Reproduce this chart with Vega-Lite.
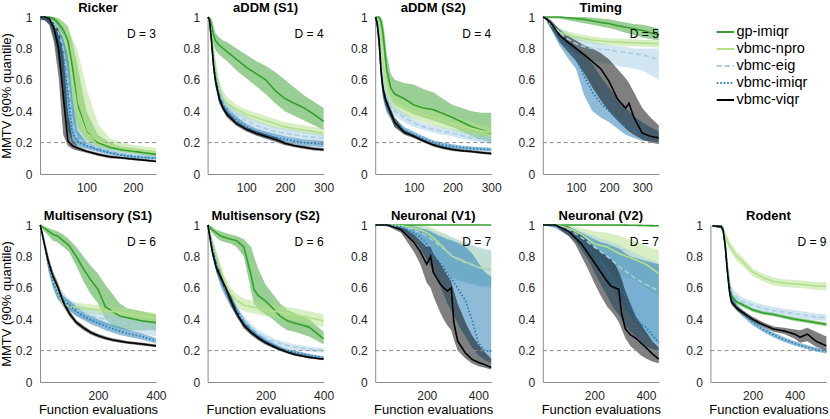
{
  "$schema": "https://vega.github.io/schema/vega-lite/v6.json",
  "padding": {"left": 0, "top": 2, "right": 0, "bottom": 0},
  "data": {"name": "d"},
  "datasets": {
    "labels": [
      {"p": "R", "x": 250, "y": 0.89, "t": "D = 3"},
      {"p": "A1", "x": 300, "y": 0.89, "t": "D = 4"},
      {"p": "A2", "x": 300, "y": 0.89, "t": "D = 4"},
      {"p": "T", "x": 350, "y": 0.89, "t": "D = 5"},
      {"p": "M1", "x": 400, "y": 0.89, "t": "D = 6"},
      {"p": "M2", "x": 400, "y": 0.89, "t": "D = 6"},
      {"p": "N1", "x": 450, "y": 0.89, "t": "D = 7"},
      {"p": "N2", "x": 450, "y": 0.89, "t": "D = 7"},
      {"p": "Ro", "x": 550, "y": 0.89, "t": "D = 9"}
    ],
    "methods": [
      {"m": "gp-imiqr"}, {"m": "vbmc-npro"}, {"m": "vbmc-eig"}, {"m": "vbmc-imiqr"}, {"m": "vbmc-viqr"}
    ],
    "d": [
      {"p":"R","m":"gp-imiqr","x":1,"y":1,"lo":0.99,"hi":1},
      {"p":"R","m":"gp-imiqr","x":10,"y":1,"lo":0.99,"hi":1},
      {"p":"R","m":"gp-imiqr","x":20,"y":1,"lo":0.98,"hi":1},
      {"p":"R","m":"gp-imiqr","x":30,"y":0.99,"lo":0.96,"hi":1},
      {"p":"R","m":"gp-imiqr","x":40,"y":0.96,"lo":0.9,"hi":0.99},
      {"p":"R","m":"gp-imiqr","x":50,"y":0.92,"lo":0.82,"hi":0.97},
      {"p":"R","m":"gp-imiqr","x":60,"y":0.85,"lo":0.68,"hi":0.94},
      {"p":"R","m":"gp-imiqr","x":70,"y":0.68,"lo":0.45,"hi":0.84},
      {"p":"R","m":"gp-imiqr","x":80,"y":0.45,"lo":0.3,"hi":0.7},
      {"p":"R","m":"gp-imiqr","x":100,"y":0.27,"lo":0.22,"hi":0.4},
      {"p":"R","m":"gp-imiqr","x":125,"y":0.2,"lo":0.175,"hi":0.25},
      {"p":"R","m":"gp-imiqr","x":150,"y":0.17,"lo":0.155,"hi":0.2},
      {"p":"R","m":"gp-imiqr","x":175,"y":0.155,"lo":0.14,"hi":0.175},
      {"p":"R","m":"gp-imiqr","x":200,"y":0.145,"lo":0.13,"hi":0.165},
      {"p":"R","m":"gp-imiqr","x":225,"y":0.135,"lo":0.12,"hi":0.155},
      {"p":"R","m":"gp-imiqr","x":250,"y":0.125,"lo":0.11,"hi":0.145},
      {"p":"R","m":"vbmc-npro","x":1,"y":1,"lo":0.99,"hi":1},
      {"p":"R","m":"vbmc-npro","x":10,"y":1,"lo":0.99,"hi":1},
      {"p":"R","m":"vbmc-npro","x":20,"y":0.99,"lo":0.97,"hi":1},
      {"p":"R","m":"vbmc-npro","x":30,"y":0.97,"lo":0.92,"hi":1},
      {"p":"R","m":"vbmc-npro","x":40,"y":0.93,"lo":0.85,"hi":0.99},
      {"p":"R","m":"vbmc-npro","x":50,"y":0.88,"lo":0.72,"hi":0.97},
      {"p":"R","m":"vbmc-npro","x":60,"y":0.78,"lo":0.5,"hi":0.93},
      {"p":"R","m":"vbmc-npro","x":70,"y":0.6,"lo":0.35,"hi":0.86},
      {"p":"R","m":"vbmc-npro","x":80,"y":0.42,"lo":0.25,"hi":0.8},
      {"p":"R","m":"vbmc-npro","x":100,"y":0.26,"lo":0.2,"hi":0.55},
      {"p":"R","m":"vbmc-npro","x":125,"y":0.21,"lo":0.17,"hi":0.32},
      {"p":"R","m":"vbmc-npro","x":150,"y":0.185,"lo":0.155,"hi":0.23},
      {"p":"R","m":"vbmc-npro","x":175,"y":0.165,"lo":0.14,"hi":0.2},
      {"p":"R","m":"vbmc-npro","x":200,"y":0.155,"lo":0.13,"hi":0.185},
      {"p":"R","m":"vbmc-npro","x":225,"y":0.148,"lo":0.125,"hi":0.175},
      {"p":"R","m":"vbmc-npro","x":250,"y":0.14,"lo":0.12,"hi":0.165},
      {"p":"R","m":"vbmc-eig","x":1,"y":1,"lo":0.99,"hi":1},
      {"p":"R","m":"vbmc-eig","x":10,"y":1,"lo":0.98,"hi":1},
      {"p":"R","m":"vbmc-eig","x":20,"y":0.99,"lo":0.96,"hi":1},
      {"p":"R","m":"vbmc-eig","x":30,"y":0.96,"lo":0.9,"hi":0.99},
      {"p":"R","m":"vbmc-eig","x":40,"y":0.9,"lo":0.78,"hi":0.97},
      {"p":"R","m":"vbmc-eig","x":50,"y":0.8,"lo":0.58,"hi":0.93},
      {"p":"R","m":"vbmc-eig","x":60,"y":0.6,"lo":0.33,"hi":0.83},
      {"p":"R","m":"vbmc-eig","x":70,"y":0.32,"lo":0.22,"hi":0.55},
      {"p":"R","m":"vbmc-eig","x":80,"y":0.23,"lo":0.19,"hi":0.32},
      {"p":"R","m":"vbmc-eig","x":100,"y":0.19,"lo":0.17,"hi":0.22},
      {"p":"R","m":"vbmc-eig","x":125,"y":0.165,"lo":0.15,"hi":0.18},
      {"p":"R","m":"vbmc-eig","x":150,"y":0.145,"lo":0.13,"hi":0.16},
      {"p":"R","m":"vbmc-eig","x":175,"y":0.13,"lo":0.12,"hi":0.145},
      {"p":"R","m":"vbmc-eig","x":200,"y":0.12,"lo":0.11,"hi":0.135},
      {"p":"R","m":"vbmc-eig","x":225,"y":0.113,"lo":0.103,"hi":0.125},
      {"p":"R","m":"vbmc-eig","x":250,"y":0.108,"lo":0.098,"hi":0.12},
      {"p":"R","m":"vbmc-imiqr","x":1,"y":1,"lo":0.99,"hi":1},
      {"p":"R","m":"vbmc-imiqr","x":10,"y":1,"lo":0.98,"hi":1},
      {"p":"R","m":"vbmc-imiqr","x":20,"y":0.99,"lo":0.95,"hi":1},
      {"p":"R","m":"vbmc-imiqr","x":30,"y":0.95,"lo":0.87,"hi":0.99},
      {"p":"R","m":"vbmc-imiqr","x":40,"y":0.88,"lo":0.72,"hi":0.96},
      {"p":"R","m":"vbmc-imiqr","x":50,"y":0.76,"lo":0.5,"hi":0.9},
      {"p":"R","m":"vbmc-imiqr","x":60,"y":0.52,"lo":0.28,"hi":0.78},
      {"p":"R","m":"vbmc-imiqr","x":70,"y":0.26,"lo":0.2,"hi":0.48},
      {"p":"R","m":"vbmc-imiqr","x":80,"y":0.21,"lo":0.18,"hi":0.28},
      {"p":"R","m":"vbmc-imiqr","x":100,"y":0.18,"lo":0.16,"hi":0.2},
      {"p":"R","m":"vbmc-imiqr","x":125,"y":0.155,"lo":0.14,"hi":0.17},
      {"p":"R","m":"vbmc-imiqr","x":150,"y":0.135,"lo":0.122,"hi":0.15},
      {"p":"R","m":"vbmc-imiqr","x":175,"y":0.12,"lo":0.11,"hi":0.133},
      {"p":"R","m":"vbmc-imiqr","x":200,"y":0.11,"lo":0.1,"hi":0.122},
      {"p":"R","m":"vbmc-imiqr","x":225,"y":0.105,"lo":0.095,"hi":0.115},
      {"p":"R","m":"vbmc-imiqr","x":250,"y":0.1,"lo":0.09,"hi":0.11},
      {"p":"R","m":"vbmc-viqr","x":1,"y":1,"lo":0.98,"hi":1},
      {"p":"R","m":"vbmc-viqr","x":10,"y":1,"lo":0.98,"hi":1},
      {"p":"R","m":"vbmc-viqr","x":20,"y":0.99,"lo":0.95,"hi":1},
      {"p":"R","m":"vbmc-viqr","x":30,"y":0.93,"lo":0.84,"hi":0.98},
      {"p":"R","m":"vbmc-viqr","x":40,"y":0.8,"lo":0.62,"hi":0.93},
      {"p":"R","m":"vbmc-viqr","x":50,"y":0.5,"lo":0.25,"hi":0.78},
      {"p":"R","m":"vbmc-viqr","x":60,"y":0.21,"lo":0.18,"hi":0.4},
      {"p":"R","m":"vbmc-viqr","x":70,"y":0.18,"lo":0.16,"hi":0.22},
      {"p":"R","m":"vbmc-viqr","x":80,"y":0.165,"lo":0.15,"hi":0.18},
      {"p":"R","m":"vbmc-viqr","x":100,"y":0.145,"lo":0.135,"hi":0.155},
      {"p":"R","m":"vbmc-viqr","x":125,"y":0.125,"lo":0.115,"hi":0.135},
      {"p":"R","m":"vbmc-viqr","x":150,"y":0.11,"lo":0.1,"hi":0.12},
      {"p":"R","m":"vbmc-viqr","x":175,"y":0.103,"lo":0.095,"hi":0.11},
      {"p":"R","m":"vbmc-viqr","x":200,"y":0.095,"lo":0.088,"hi":0.102},
      {"p":"R","m":"vbmc-viqr","x":225,"y":0.088,"lo":0.082,"hi":0.095},
      {"p":"R","m":"vbmc-viqr","x":250,"y":0.08,"lo":0.075,"hi":0.087},

      {"p":"A1","m":"gp-imiqr","x":1,"y":1,"lo":0.99,"hi":1},
      {"p":"A1","m":"gp-imiqr","x":5,"y":0.99,"lo":0.96,"hi":1},
      {"p":"A1","m":"gp-imiqr","x":10,"y":0.95,"lo":0.9,"hi":0.99},
      {"p":"A1","m":"gp-imiqr","x":15,"y":0.89,"lo":0.83,"hi":0.95},
      {"p":"A1","m":"gp-imiqr","x":20,"y":0.85,"lo":0.79,"hi":0.9},
      {"p":"A1","m":"gp-imiqr","x":30,"y":0.82,"lo":0.76,"hi":0.87},
      {"p":"A1","m":"gp-imiqr","x":40,"y":0.8,"lo":0.74,"hi":0.85},
      {"p":"A1","m":"gp-imiqr","x":50,"y":0.78,"lo":0.72,"hi":0.84},
      {"p":"A1","m":"gp-imiqr","x":75,"y":0.73,"lo":0.66,"hi":0.8},
      {"p":"A1","m":"gp-imiqr","x":100,"y":0.68,"lo":0.61,"hi":0.76},
      {"p":"A1","m":"gp-imiqr","x":125,"y":0.64,"lo":0.56,"hi":0.72},
      {"p":"A1","m":"gp-imiqr","x":150,"y":0.6,"lo":0.51,"hi":0.69},
      {"p":"A1","m":"gp-imiqr","x":175,"y":0.53,"lo":0.45,"hi":0.65},
      {"p":"A1","m":"gp-imiqr","x":200,"y":0.48,"lo":0.4,"hi":0.6},
      {"p":"A1","m":"gp-imiqr","x":225,"y":0.45,"lo":0.37,"hi":0.55},
      {"p":"A1","m":"gp-imiqr","x":250,"y":0.42,"lo":0.34,"hi":0.5},
      {"p":"A1","m":"gp-imiqr","x":275,"y":0.38,"lo":0.31,"hi":0.46},
      {"p":"A1","m":"gp-imiqr","x":300,"y":0.335,"lo":0.28,"hi":0.42},
      {"p":"A1","m":"vbmc-npro","x":1,"y":1,"lo":0.99,"hi":1},
      {"p":"A1","m":"vbmc-npro","x":5,"y":0.98,"lo":0.95,"hi":1},
      {"p":"A1","m":"vbmc-npro","x":10,"y":0.9,"lo":0.84,"hi":0.95},
      {"p":"A1","m":"vbmc-npro","x":15,"y":0.78,"lo":0.72,"hi":0.84},
      {"p":"A1","m":"vbmc-npro","x":20,"y":0.68,"lo":0.62,"hi":0.74},
      {"p":"A1","m":"vbmc-npro","x":30,"y":0.55,"lo":0.5,"hi":0.6},
      {"p":"A1","m":"vbmc-npro","x":40,"y":0.48,"lo":0.44,"hi":0.53},
      {"p":"A1","m":"vbmc-npro","x":50,"y":0.45,"lo":0.41,"hi":0.49},
      {"p":"A1","m":"vbmc-npro","x":75,"y":0.41,"lo":0.38,"hi":0.44},
      {"p":"A1","m":"vbmc-npro","x":100,"y":0.38,"lo":0.35,"hi":0.41},
      {"p":"A1","m":"vbmc-npro","x":125,"y":0.36,"lo":0.33,"hi":0.39},
      {"p":"A1","m":"vbmc-npro","x":150,"y":0.34,"lo":0.31,"hi":0.37},
      {"p":"A1","m":"vbmc-npro","x":175,"y":0.32,"lo":0.29,"hi":0.35},
      {"p":"A1","m":"vbmc-npro","x":200,"y":0.3,"lo":0.28,"hi":0.33},
      {"p":"A1","m":"vbmc-npro","x":225,"y":0.29,"lo":0.27,"hi":0.32},
      {"p":"A1","m":"vbmc-npro","x":250,"y":0.28,"lo":0.26,"hi":0.31},
      {"p":"A1","m":"vbmc-npro","x":275,"y":0.27,"lo":0.25,"hi":0.3},
      {"p":"A1","m":"vbmc-npro","x":300,"y":0.26,"lo":0.24,"hi":0.29},
      {"p":"A1","m":"vbmc-eig","x":1,"y":1,"lo":0.99,"hi":1},
      {"p":"A1","m":"vbmc-eig","x":5,"y":0.98,"lo":0.95,"hi":1},
      {"p":"A1","m":"vbmc-eig","x":10,"y":0.87,"lo":0.82,"hi":0.92},
      {"p":"A1","m":"vbmc-eig","x":15,"y":0.74,"lo":0.68,"hi":0.8},
      {"p":"A1","m":"vbmc-eig","x":20,"y":0.64,"lo":0.58,"hi":0.7},
      {"p":"A1","m":"vbmc-eig","x":30,"y":0.52,"lo":0.47,"hi":0.57},
      {"p":"A1","m":"vbmc-eig","x":40,"y":0.46,"lo":0.42,"hi":0.5},
      {"p":"A1","m":"vbmc-eig","x":50,"y":0.42,"lo":0.38,"hi":0.46},
      {"p":"A1","m":"vbmc-eig","x":75,"y":0.37,"lo":0.34,"hi":0.4},
      {"p":"A1","m":"vbmc-eig","x":100,"y":0.34,"lo":0.31,"hi":0.37},
      {"p":"A1","m":"vbmc-eig","x":125,"y":0.31,"lo":0.28,"hi":0.34},
      {"p":"A1","m":"vbmc-eig","x":150,"y":0.29,"lo":0.26,"hi":0.32},
      {"p":"A1","m":"vbmc-eig","x":175,"y":0.27,"lo":0.245,"hi":0.3},
      {"p":"A1","m":"vbmc-eig","x":200,"y":0.26,"lo":0.235,"hi":0.29},
      {"p":"A1","m":"vbmc-eig","x":225,"y":0.25,"lo":0.225,"hi":0.28},
      {"p":"A1","m":"vbmc-eig","x":250,"y":0.24,"lo":0.215,"hi":0.27},
      {"p":"A1","m":"vbmc-eig","x":275,"y":0.235,"lo":0.21,"hi":0.26},
      {"p":"A1","m":"vbmc-eig","x":300,"y":0.23,"lo":0.205,"hi":0.255},
      {"p":"A1","m":"vbmc-imiqr","x":1,"y":1,"lo":0.99,"hi":1},
      {"p":"A1","m":"vbmc-imiqr","x":5,"y":0.98,"lo":0.95,"hi":1},
      {"p":"A1","m":"vbmc-imiqr","x":10,"y":0.86,"lo":0.8,"hi":0.91},
      {"p":"A1","m":"vbmc-imiqr","x":15,"y":0.72,"lo":0.66,"hi":0.78},
      {"p":"A1","m":"vbmc-imiqr","x":20,"y":0.62,"lo":0.57,"hi":0.67},
      {"p":"A1","m":"vbmc-imiqr","x":30,"y":0.5,"lo":0.46,"hi":0.54},
      {"p":"A1","m":"vbmc-imiqr","x":40,"y":0.44,"lo":0.41,"hi":0.47},
      {"p":"A1","m":"vbmc-imiqr","x":50,"y":0.4,"lo":0.37,"hi":0.43},
      {"p":"A1","m":"vbmc-imiqr","x":75,"y":0.34,"lo":0.32,"hi":0.365},
      {"p":"A1","m":"vbmc-imiqr","x":100,"y":0.3,"lo":0.28,"hi":0.32},
      {"p":"A1","m":"vbmc-imiqr","x":125,"y":0.27,"lo":0.25,"hi":0.29},
      {"p":"A1","m":"vbmc-imiqr","x":150,"y":0.25,"lo":0.23,"hi":0.27},
      {"p":"A1","m":"vbmc-imiqr","x":175,"y":0.235,"lo":0.215,"hi":0.255},
      {"p":"A1","m":"vbmc-imiqr","x":200,"y":0.22,"lo":0.2,"hi":0.24},
      {"p":"A1","m":"vbmc-imiqr","x":225,"y":0.21,"lo":0.19,"hi":0.23},
      {"p":"A1","m":"vbmc-imiqr","x":250,"y":0.2,"lo":0.18,"hi":0.22},
      {"p":"A1","m":"vbmc-imiqr","x":275,"y":0.195,"lo":0.175,"hi":0.215},
      {"p":"A1","m":"vbmc-imiqr","x":300,"y":0.19,"lo":0.17,"hi":0.21},
      {"p":"A1","m":"vbmc-viqr","x":1,"y":1,"lo":0.99,"hi":1},
      {"p":"A1","m":"vbmc-viqr","x":5,"y":0.98,"lo":0.95,"hi":1},
      {"p":"A1","m":"vbmc-viqr","x":10,"y":0.85,"lo":0.8,"hi":0.9},
      {"p":"A1","m":"vbmc-viqr","x":15,"y":0.7,"lo":0.65,"hi":0.75},
      {"p":"A1","m":"vbmc-viqr","x":20,"y":0.6,"lo":0.56,"hi":0.64},
      {"p":"A1","m":"vbmc-viqr","x":30,"y":0.48,"lo":0.45,"hi":0.51},
      {"p":"A1","m":"vbmc-viqr","x":40,"y":0.42,"lo":0.4,"hi":0.44},
      {"p":"A1","m":"vbmc-viqr","x":50,"y":0.38,"lo":0.36,"hi":0.4},
      {"p":"A1","m":"vbmc-viqr","x":75,"y":0.32,"lo":0.305,"hi":0.335},
      {"p":"A1","m":"vbmc-viqr","x":100,"y":0.285,"lo":0.27,"hi":0.3},
      {"p":"A1","m":"vbmc-viqr","x":125,"y":0.26,"lo":0.245,"hi":0.275},
      {"p":"A1","m":"vbmc-viqr","x":150,"y":0.24,"lo":0.225,"hi":0.255},
      {"p":"A1","m":"vbmc-viqr","x":175,"y":0.22,"lo":0.205,"hi":0.235},
      {"p":"A1","m":"vbmc-viqr","x":200,"y":0.195,"lo":0.183,"hi":0.207},
      {"p":"A1","m":"vbmc-viqr","x":225,"y":0.18,"lo":0.17,"hi":0.19},
      {"p":"A1","m":"vbmc-viqr","x":250,"y":0.17,"lo":0.16,"hi":0.18},
      {"p":"A1","m":"vbmc-viqr","x":275,"y":0.16,"lo":0.15,"hi":0.17},
      {"p":"A1","m":"vbmc-viqr","x":300,"y":0.155,"lo":0.145,"hi":0.165},

      {"p":"A2","m":"gp-imiqr","x":1,"y":1,"lo":0.99,"hi":1},
      {"p":"A2","m":"gp-imiqr","x":5,"y":1,"lo":0.98,"hi":1},
      {"p":"A2","m":"gp-imiqr","x":10,"y":1,"lo":0.97,"hi":1},
      {"p":"A2","m":"gp-imiqr","x":15,"y":0.97,"lo":0.9,"hi":1},
      {"p":"A2","m":"gp-imiqr","x":20,"y":0.9,"lo":0.8,"hi":0.97},
      {"p":"A2","m":"gp-imiqr","x":25,"y":0.78,"lo":0.68,"hi":0.88},
      {"p":"A2","m":"gp-imiqr","x":30,"y":0.66,"lo":0.58,"hi":0.76},
      {"p":"A2","m":"gp-imiqr","x":40,"y":0.55,"lo":0.48,"hi":0.64},
      {"p":"A2","m":"gp-imiqr","x":50,"y":0.51,"lo":0.44,"hi":0.6},
      {"p":"A2","m":"gp-imiqr","x":75,"y":0.48,"lo":0.41,"hi":0.58},
      {"p":"A2","m":"gp-imiqr","x":100,"y":0.44,"lo":0.38,"hi":0.57},
      {"p":"A2","m":"gp-imiqr","x":125,"y":0.42,"lo":0.36,"hi":0.54},
      {"p":"A2","m":"gp-imiqr","x":150,"y":0.41,"lo":0.34,"hi":0.52},
      {"p":"A2","m":"gp-imiqr","x":175,"y":0.385,"lo":0.32,"hi":0.48},
      {"p":"A2","m":"gp-imiqr","x":200,"y":0.36,"lo":0.3,"hi":0.44},
      {"p":"A2","m":"gp-imiqr","x":225,"y":0.33,"lo":0.27,"hi":0.42},
      {"p":"A2","m":"gp-imiqr","x":250,"y":0.3,"lo":0.24,"hi":0.4},
      {"p":"A2","m":"gp-imiqr","x":275,"y":0.28,"lo":0.22,"hi":0.39},
      {"p":"A2","m":"gp-imiqr","x":300,"y":0.26,"lo":0.2,"hi":0.39},
      {"p":"A2","m":"vbmc-npro","x":1,"y":1,"lo":0.99,"hi":1},
      {"p":"A2","m":"vbmc-npro","x":5,"y":0.99,"lo":0.96,"hi":1},
      {"p":"A2","m":"vbmc-npro","x":10,"y":0.95,"lo":0.88,"hi":0.99},
      {"p":"A2","m":"vbmc-npro","x":15,"y":0.85,"lo":0.75,"hi":0.93},
      {"p":"A2","m":"vbmc-npro","x":20,"y":0.72,"lo":0.62,"hi":0.82},
      {"p":"A2","m":"vbmc-npro","x":25,"y":0.62,"lo":0.54,"hi":0.7},
      {"p":"A2","m":"vbmc-npro","x":30,"y":0.55,"lo":0.48,"hi":0.62},
      {"p":"A2","m":"vbmc-npro","x":40,"y":0.48,"lo":0.43,"hi":0.54},
      {"p":"A2","m":"vbmc-npro","x":50,"y":0.45,"lo":0.4,"hi":0.5},
      {"p":"A2","m":"vbmc-npro","x":75,"y":0.42,"lo":0.37,"hi":0.47},
      {"p":"A2","m":"vbmc-npro","x":100,"y":0.4,"lo":0.35,"hi":0.45},
      {"p":"A2","m":"vbmc-npro","x":125,"y":0.38,"lo":0.33,"hi":0.43},
      {"p":"A2","m":"vbmc-npro","x":150,"y":0.36,"lo":0.31,"hi":0.41},
      {"p":"A2","m":"vbmc-npro","x":175,"y":0.34,"lo":0.29,"hi":0.39},
      {"p":"A2","m":"vbmc-npro","x":200,"y":0.32,"lo":0.28,"hi":0.37},
      {"p":"A2","m":"vbmc-npro","x":225,"y":0.3,"lo":0.26,"hi":0.35},
      {"p":"A2","m":"vbmc-npro","x":250,"y":0.29,"lo":0.25,"hi":0.33},
      {"p":"A2","m":"vbmc-npro","x":275,"y":0.275,"lo":0.24,"hi":0.31},
      {"p":"A2","m":"vbmc-npro","x":300,"y":0.265,"lo":0.23,"hi":0.3},
      {"p":"A2","m":"vbmc-eig","x":1,"y":1,"lo":0.99,"hi":1},
      {"p":"A2","m":"vbmc-eig","x":5,"y":0.98,"lo":0.95,"hi":1},
      {"p":"A2","m":"vbmc-eig","x":10,"y":0.88,"lo":0.82,"hi":0.93},
      {"p":"A2","m":"vbmc-eig","x":15,"y":0.72,"lo":0.65,"hi":0.79},
      {"p":"A2","m":"vbmc-eig","x":20,"y":0.6,"lo":0.54,"hi":0.66},
      {"p":"A2","m":"vbmc-eig","x":25,"y":0.53,"lo":0.48,"hi":0.58},
      {"p":"A2","m":"vbmc-eig","x":30,"y":0.49,"lo":0.45,"hi":0.53},
      {"p":"A2","m":"vbmc-eig","x":40,"y":0.43,"lo":0.4,"hi":0.47},
      {"p":"A2","m":"vbmc-eig","x":50,"y":0.4,"lo":0.37,"hi":0.43},
      {"p":"A2","m":"vbmc-eig","x":75,"y":0.36,"lo":0.33,"hi":0.39},
      {"p":"A2","m":"vbmc-eig","x":100,"y":0.325,"lo":0.3,"hi":0.35},
      {"p":"A2","m":"vbmc-eig","x":125,"y":0.3,"lo":0.28,"hi":0.325},
      {"p":"A2","m":"vbmc-eig","x":150,"y":0.285,"lo":0.265,"hi":0.31},
      {"p":"A2","m":"vbmc-eig","x":175,"y":0.27,"lo":0.25,"hi":0.295},
      {"p":"A2","m":"vbmc-eig","x":200,"y":0.26,"lo":0.24,"hi":0.285},
      {"p":"A2","m":"vbmc-eig","x":225,"y":0.245,"lo":0.225,"hi":0.27},
      {"p":"A2","m":"vbmc-eig","x":250,"y":0.23,"lo":0.21,"hi":0.255},
      {"p":"A2","m":"vbmc-eig","x":275,"y":0.22,"lo":0.2,"hi":0.245},
      {"p":"A2","m":"vbmc-eig","x":300,"y":0.21,"lo":0.19,"hi":0.235},
      {"p":"A2","m":"vbmc-imiqr","x":1,"y":1,"lo":0.99,"hi":1},
      {"p":"A2","m":"vbmc-imiqr","x":5,"y":0.97,"lo":0.93,"hi":1},
      {"p":"A2","m":"vbmc-imiqr","x":10,"y":0.86,"lo":0.8,"hi":0.91},
      {"p":"A2","m":"vbmc-imiqr","x":15,"y":0.66,"lo":0.6,"hi":0.72},
      {"p":"A2","m":"vbmc-imiqr","x":20,"y":0.53,"lo":0.48,"hi":0.58},
      {"p":"A2","m":"vbmc-imiqr","x":25,"y":0.47,"lo":0.43,"hi":0.51},
      {"p":"A2","m":"vbmc-imiqr","x":30,"y":0.43,"lo":0.39,"hi":0.47},
      {"p":"A2","m":"vbmc-imiqr","x":40,"y":0.38,"lo":0.35,"hi":0.41},
      {"p":"A2","m":"vbmc-imiqr","x":50,"y":0.33,"lo":0.3,"hi":0.36},
      {"p":"A2","m":"vbmc-imiqr","x":75,"y":0.28,"lo":0.26,"hi":0.3},
      {"p":"A2","m":"vbmc-imiqr","x":100,"y":0.25,"lo":0.235,"hi":0.27},
      {"p":"A2","m":"vbmc-imiqr","x":125,"y":0.225,"lo":0.21,"hi":0.24},
      {"p":"A2","m":"vbmc-imiqr","x":150,"y":0.2,"lo":0.188,"hi":0.215},
      {"p":"A2","m":"vbmc-imiqr","x":175,"y":0.185,"lo":0.173,"hi":0.2},
      {"p":"A2","m":"vbmc-imiqr","x":200,"y":0.175,"lo":0.163,"hi":0.19},
      {"p":"A2","m":"vbmc-imiqr","x":225,"y":0.168,"lo":0.157,"hi":0.18},
      {"p":"A2","m":"vbmc-imiqr","x":250,"y":0.162,"lo":0.152,"hi":0.175},
      {"p":"A2","m":"vbmc-imiqr","x":275,"y":0.158,"lo":0.148,"hi":0.17},
      {"p":"A2","m":"vbmc-imiqr","x":300,"y":0.155,"lo":0.145,"hi":0.167},
      {"p":"A2","m":"vbmc-viqr","x":1,"y":1,"lo":0.99,"hi":1},
      {"p":"A2","m":"vbmc-viqr","x":5,"y":0.96,"lo":0.92,"hi":1},
      {"p":"A2","m":"vbmc-viqr","x":10,"y":0.85,"lo":0.78,"hi":0.9},
      {"p":"A2","m":"vbmc-viqr","x":15,"y":0.66,"lo":0.6,"hi":0.72},
      {"p":"A2","m":"vbmc-viqr","x":20,"y":0.55,"lo":0.5,"hi":0.6},
      {"p":"A2","m":"vbmc-viqr","x":25,"y":0.49,"lo":0.45,"hi":0.53},
      {"p":"A2","m":"vbmc-viqr","x":30,"y":0.45,"lo":0.41,"hi":0.49},
      {"p":"A2","m":"vbmc-viqr","x":40,"y":0.39,"lo":0.36,"hi":0.42},
      {"p":"A2","m":"vbmc-viqr","x":50,"y":0.33,"lo":0.3,"hi":0.36},
      {"p":"A2","m":"vbmc-viqr","x":75,"y":0.265,"lo":0.25,"hi":0.28},
      {"p":"A2","m":"vbmc-viqr","x":100,"y":0.24,"lo":0.228,"hi":0.252},
      {"p":"A2","m":"vbmc-viqr","x":125,"y":0.21,"lo":0.2,"hi":0.222},
      {"p":"A2","m":"vbmc-viqr","x":150,"y":0.185,"lo":0.175,"hi":0.195},
      {"p":"A2","m":"vbmc-viqr","x":175,"y":0.168,"lo":0.158,"hi":0.178},
      {"p":"A2","m":"vbmc-viqr","x":200,"y":0.156,"lo":0.147,"hi":0.165},
      {"p":"A2","m":"vbmc-viqr","x":225,"y":0.148,"lo":0.14,"hi":0.157},
      {"p":"A2","m":"vbmc-viqr","x":250,"y":0.143,"lo":0.135,"hi":0.152},
      {"p":"A2","m":"vbmc-viqr","x":275,"y":0.136,"lo":0.128,"hi":0.145},
      {"p":"A2","m":"vbmc-viqr","x":300,"y":0.13,"lo":0.122,"hi":0.14},

      {"p":"T","m":"gp-imiqr","x":1,"y":1,"lo":1,"hi":1},
      {"p":"T","m":"gp-imiqr","x":25,"y":1,"lo":0.99,"hi":1},
      {"p":"T","m":"gp-imiqr","x":50,"y":1,"lo":0.99,"hi":1},
      {"p":"T","m":"gp-imiqr","x":75,"y":0.995,"lo":0.98,"hi":1},
      {"p":"T","m":"gp-imiqr","x":100,"y":0.99,"lo":0.97,"hi":1},
      {"p":"T","m":"gp-imiqr","x":125,"y":0.985,"lo":0.96,"hi":1},
      {"p":"T","m":"gp-imiqr","x":150,"y":0.975,"lo":0.95,"hi":0.995},
      {"p":"T","m":"gp-imiqr","x":175,"y":0.965,"lo":0.94,"hi":0.99},
      {"p":"T","m":"gp-imiqr","x":200,"y":0.958,"lo":0.93,"hi":0.985},
      {"p":"T","m":"gp-imiqr","x":225,"y":0.945,"lo":0.915,"hi":0.975},
      {"p":"T","m":"gp-imiqr","x":250,"y":0.935,"lo":0.9,"hi":0.965},
      {"p":"T","m":"gp-imiqr","x":275,"y":0.925,"lo":0.885,"hi":0.955},
      {"p":"T","m":"gp-imiqr","x":300,"y":0.915,"lo":0.87,"hi":0.95},
      {"p":"T","m":"gp-imiqr","x":325,"y":0.9,"lo":0.86,"hi":0.94},
      {"p":"T","m":"gp-imiqr","x":350,"y":0.885,"lo":0.85,"hi":0.925},
      {"p":"T","m":"vbmc-npro","x":1,"y":1,"lo":1,"hi":1},
      {"p":"T","m":"vbmc-npro","x":10,"y":0.99,"lo":0.98,"hi":1},
      {"p":"T","m":"vbmc-npro","x":25,"y":0.95,"lo":0.93,"hi":0.97},
      {"p":"T","m":"vbmc-npro","x":50,"y":0.905,"lo":0.88,"hi":0.93},
      {"p":"T","m":"vbmc-npro","x":75,"y":0.885,"lo":0.86,"hi":0.91},
      {"p":"T","m":"vbmc-npro","x":100,"y":0.873,"lo":0.85,"hi":0.895},
      {"p":"T","m":"vbmc-npro","x":125,"y":0.862,"lo":0.84,"hi":0.885},
      {"p":"T","m":"vbmc-npro","x":150,"y":0.852,"lo":0.83,"hi":0.875},
      {"p":"T","m":"vbmc-npro","x":200,"y":0.843,"lo":0.82,"hi":0.865},
      {"p":"T","m":"vbmc-npro","x":250,"y":0.838,"lo":0.815,"hi":0.86},
      {"p":"T","m":"vbmc-npro","x":300,"y":0.833,"lo":0.81,"hi":0.855},
      {"p":"T","m":"vbmc-npro","x":350,"y":0.83,"lo":0.805,"hi":0.852},
      {"p":"T","m":"vbmc-eig","x":1,"y":1,"lo":1,"hi":1},
      {"p":"T","m":"vbmc-eig","x":10,"y":0.99,"lo":0.98,"hi":1},
      {"p":"T","m":"vbmc-eig","x":25,"y":0.95,"lo":0.92,"hi":0.97},
      {"p":"T","m":"vbmc-eig","x":50,"y":0.9,"lo":0.86,"hi":0.93},
      {"p":"T","m":"vbmc-eig","x":75,"y":0.86,"lo":0.81,"hi":0.9},
      {"p":"T","m":"vbmc-eig","x":100,"y":0.83,"lo":0.77,"hi":0.87},
      {"p":"T","m":"vbmc-eig","x":125,"y":0.81,"lo":0.74,"hi":0.85},
      {"p":"T","m":"vbmc-eig","x":150,"y":0.8,"lo":0.72,"hi":0.84},
      {"p":"T","m":"vbmc-eig","x":175,"y":0.795,"lo":0.71,"hi":0.83},
      {"p":"T","m":"vbmc-eig","x":200,"y":0.79,"lo":0.7,"hi":0.82},
      {"p":"T","m":"vbmc-eig","x":225,"y":0.78,"lo":0.69,"hi":0.815},
      {"p":"T","m":"vbmc-eig","x":250,"y":0.775,"lo":0.68,"hi":0.81},
      {"p":"T","m":"vbmc-eig","x":275,"y":0.765,"lo":0.67,"hi":0.8},
      {"p":"T","m":"vbmc-eig","x":300,"y":0.76,"lo":0.66,"hi":0.8},
      {"p":"T","m":"vbmc-eig","x":325,"y":0.745,"lo":0.63,"hi":0.8},
      {"p":"T","m":"vbmc-eig","x":350,"y":0.725,"lo":0.6,"hi":0.8},
      {"p":"T","m":"vbmc-imiqr","x":1,"y":1,"lo":1,"hi":1},
      {"p":"T","m":"vbmc-imiqr","x":10,"y":0.99,"lo":0.98,"hi":1},
      {"p":"T","m":"vbmc-imiqr","x":25,"y":0.95,"lo":0.92,"hi":0.97},
      {"p":"T","m":"vbmc-imiqr","x":50,"y":0.86,"lo":0.82,"hi":0.9},
      {"p":"T","m":"vbmc-imiqr","x":75,"y":0.8,"lo":0.74,"hi":0.86},
      {"p":"T","m":"vbmc-imiqr","x":100,"y":0.74,"lo":0.67,"hi":0.81},
      {"p":"T","m":"vbmc-imiqr","x":125,"y":0.62,"lo":0.5,"hi":0.76},
      {"p":"T","m":"vbmc-imiqr","x":150,"y":0.52,"lo":0.4,"hi":0.7},
      {"p":"T","m":"vbmc-imiqr","x":175,"y":0.45,"lo":0.36,"hi":0.62},
      {"p":"T","m":"vbmc-imiqr","x":200,"y":0.4,"lo":0.33,"hi":0.55},
      {"p":"T","m":"vbmc-imiqr","x":225,"y":0.35,"lo":0.29,"hi":0.48},
      {"p":"T","m":"vbmc-imiqr","x":250,"y":0.31,"lo":0.25,"hi":0.42},
      {"p":"T","m":"vbmc-imiqr","x":275,"y":0.28,"lo":0.23,"hi":0.37},
      {"p":"T","m":"vbmc-imiqr","x":300,"y":0.25,"lo":0.21,"hi":0.33},
      {"p":"T","m":"vbmc-imiqr","x":325,"y":0.235,"lo":0.21,"hi":0.3},
      {"p":"T","m":"vbmc-imiqr","x":350,"y":0.23,"lo":0.2,"hi":0.27},
      {"p":"T","m":"vbmc-viqr","x":1,"y":1,"lo":1,"hi":1},
      {"p":"T","m":"vbmc-viqr","x":10,"y":0.99,"lo":0.98,"hi":1},
      {"p":"T","m":"vbmc-viqr","x":25,"y":0.96,"lo":0.93,"hi":0.98},
      {"p":"T","m":"vbmc-viqr","x":50,"y":0.885,"lo":0.84,"hi":0.92},
      {"p":"T","m":"vbmc-viqr","x":75,"y":0.84,"lo":0.78,"hi":0.88},
      {"p":"T","m":"vbmc-viqr","x":100,"y":0.8,"lo":0.72,"hi":0.85},
      {"p":"T","m":"vbmc-viqr","x":125,"y":0.76,"lo":0.64,"hi":0.82},
      {"p":"T","m":"vbmc-viqr","x":150,"y":0.715,"lo":0.55,"hi":0.8},
      {"p":"T","m":"vbmc-viqr","x":175,"y":0.67,"lo":0.47,"hi":0.77},
      {"p":"T","m":"vbmc-viqr","x":200,"y":0.59,"lo":0.4,"hi":0.73},
      {"p":"T","m":"vbmc-viqr","x":225,"y":0.48,"lo":0.34,"hi":0.67},
      {"p":"T","m":"vbmc-viqr","x":250,"y":0.42,"lo":0.29,"hi":0.61},
      {"p":"T","m":"vbmc-viqr","x":260,"y":0.45,"lo":0.27,"hi":0.58},
      {"p":"T","m":"vbmc-viqr","x":275,"y":0.36,"lo":0.25,"hi":0.52},
      {"p":"T","m":"vbmc-viqr","x":300,"y":0.26,"lo":0.22,"hi":0.42},
      {"p":"T","m":"vbmc-viqr","x":325,"y":0.24,"lo":0.2,"hi":0.36},
      {"p":"T","m":"vbmc-viqr","x":350,"y":0.23,"lo":0.19,"hi":0.31},

      {"p":"M1","m":"gp-imiqr","x":1,"y":1,"lo":0.99,"hi":1},
      {"p":"M1","m":"gp-imiqr","x":15,"y":0.98,"lo":0.96,"hi":0.99},
      {"p":"M1","m":"gp-imiqr","x":30,"y":0.96,"lo":0.93,"hi":0.98},
      {"p":"M1","m":"gp-imiqr","x":45,"y":0.94,"lo":0.9,"hi":0.97},
      {"p":"M1","m":"gp-imiqr","x":60,"y":0.93,"lo":0.89,"hi":0.96},
      {"p":"M1","m":"gp-imiqr","x":80,"y":0.9,"lo":0.86,"hi":0.94},
      {"p":"M1","m":"gp-imiqr","x":100,"y":0.87,"lo":0.83,"hi":0.91},
      {"p":"M1","m":"gp-imiqr","x":125,"y":0.8,"lo":0.74,"hi":0.86},
      {"p":"M1","m":"gp-imiqr","x":150,"y":0.72,"lo":0.64,"hi":0.8},
      {"p":"M1","m":"gp-imiqr","x":175,"y":0.65,"lo":0.56,"hi":0.74},
      {"p":"M1","m":"gp-imiqr","x":200,"y":0.59,"lo":0.5,"hi":0.69},
      {"p":"M1","m":"gp-imiqr","x":225,"y":0.48,"lo":0.4,"hi":0.62},
      {"p":"M1","m":"gp-imiqr","x":250,"y":0.45,"lo":0.36,"hi":0.56},
      {"p":"M1","m":"gp-imiqr","x":275,"y":0.42,"lo":0.34,"hi":0.5},
      {"p":"M1","m":"gp-imiqr","x":300,"y":0.41,"lo":0.33,"hi":0.47},
      {"p":"M1","m":"gp-imiqr","x":350,"y":0.39,"lo":0.33,"hi":0.45},
      {"p":"M1","m":"gp-imiqr","x":400,"y":0.378,"lo":0.33,"hi":0.43},
      {"p":"M1","m":"vbmc-npro","x":1,"y":1,"lo":0.99,"hi":1},
      {"p":"M1","m":"vbmc-npro","x":15,"y":0.89,"lo":0.86,"hi":0.92},
      {"p":"M1","m":"vbmc-npro","x":30,"y":0.76,"lo":0.72,"hi":0.8},
      {"p":"M1","m":"vbmc-npro","x":45,"y":0.66,"lo":0.62,"hi":0.7},
      {"p":"M1","m":"vbmc-npro","x":60,"y":0.58,"lo":0.54,"hi":0.62},
      {"p":"M1","m":"vbmc-npro","x":80,"y":0.5,"lo":0.47,"hi":0.54},
      {"p":"M1","m":"vbmc-npro","x":100,"y":0.48,"lo":0.45,"hi":0.51},
      {"p":"M1","m":"vbmc-npro","x":150,"y":0.47,"lo":0.44,"hi":0.5},
      {"p":"M1","m":"vbmc-npro","x":200,"y":0.46,"lo":0.43,"hi":0.49},
      {"p":"M1","m":"vbmc-npro","x":250,"y":0.45,"lo":0.42,"hi":0.48},
      {"p":"M1","m":"vbmc-npro","x":300,"y":0.435,"lo":0.405,"hi":0.465},
      {"p":"M1","m":"vbmc-npro","x":350,"y":0.42,"lo":0.39,"hi":0.45},
      {"p":"M1","m":"vbmc-npro","x":400,"y":0.41,"lo":0.38,"hi":0.44},
      {"p":"M1","m":"vbmc-eig","x":1,"y":1,"lo":0.99,"hi":1},
      {"p":"M1","m":"vbmc-eig","x":15,"y":0.89,"lo":0.86,"hi":0.92},
      {"p":"M1","m":"vbmc-eig","x":30,"y":0.75,"lo":0.7,"hi":0.8},
      {"p":"M1","m":"vbmc-eig","x":45,"y":0.65,"lo":0.6,"hi":0.7},
      {"p":"M1","m":"vbmc-eig","x":60,"y":0.58,"lo":0.53,"hi":0.63},
      {"p":"M1","m":"vbmc-eig","x":80,"y":0.52,"lo":0.48,"hi":0.57},
      {"p":"M1","m":"vbmc-eig","x":100,"y":0.49,"lo":0.45,"hi":0.53},
      {"p":"M1","m":"vbmc-eig","x":125,"y":0.46,"lo":0.42,"hi":0.5},
      {"p":"M1","m":"vbmc-eig","x":150,"y":0.44,"lo":0.4,"hi":0.48},
      {"p":"M1","m":"vbmc-eig","x":175,"y":0.425,"lo":0.385,"hi":0.465},
      {"p":"M1","m":"vbmc-eig","x":200,"y":0.41,"lo":0.37,"hi":0.45},
      {"p":"M1","m":"vbmc-eig","x":250,"y":0.39,"lo":0.35,"hi":0.43},
      {"p":"M1","m":"vbmc-eig","x":300,"y":0.37,"lo":0.33,"hi":0.41},
      {"p":"M1","m":"vbmc-eig","x":350,"y":0.35,"lo":0.31,"hi":0.39},
      {"p":"M1","m":"vbmc-eig","x":400,"y":0.33,"lo":0.29,"hi":0.37},
      {"p":"M1","m":"vbmc-imiqr","x":1,"y":1,"lo":0.99,"hi":1},
      {"p":"M1","m":"vbmc-imiqr","x":15,"y":0.88,"lo":0.85,"hi":0.91},
      {"p":"M1","m":"vbmc-imiqr","x":30,"y":0.74,"lo":0.7,"hi":0.78},
      {"p":"M1","m":"vbmc-imiqr","x":45,"y":0.64,"lo":0.6,"hi":0.68},
      {"p":"M1","m":"vbmc-imiqr","x":60,"y":0.57,"lo":0.53,"hi":0.61},
      {"p":"M1","m":"vbmc-imiqr","x":80,"y":0.52,"lo":0.49,"hi":0.55},
      {"p":"M1","m":"vbmc-imiqr","x":100,"y":0.49,"lo":0.46,"hi":0.52},
      {"p":"M1","m":"vbmc-imiqr","x":125,"y":0.45,"lo":0.42,"hi":0.48},
      {"p":"M1","m":"vbmc-imiqr","x":150,"y":0.42,"lo":0.395,"hi":0.445},
      {"p":"M1","m":"vbmc-imiqr","x":175,"y":0.395,"lo":0.37,"hi":0.42},
      {"p":"M1","m":"vbmc-imiqr","x":200,"y":0.375,"lo":0.35,"hi":0.4},
      {"p":"M1","m":"vbmc-imiqr","x":225,"y":0.355,"lo":0.33,"hi":0.38},
      {"p":"M1","m":"vbmc-imiqr","x":250,"y":0.34,"lo":0.315,"hi":0.365},
      {"p":"M1","m":"vbmc-imiqr","x":275,"y":0.325,"lo":0.3,"hi":0.35},
      {"p":"M1","m":"vbmc-imiqr","x":300,"y":0.31,"lo":0.29,"hi":0.335},
      {"p":"M1","m":"vbmc-imiqr","x":350,"y":0.29,"lo":0.27,"hi":0.31},
      {"p":"M1","m":"vbmc-imiqr","x":400,"y":0.262,"lo":0.245,"hi":0.28},
      {"p":"M1","m":"vbmc-viqr","x":1,"y":1,"lo":0.99,"hi":1},
      {"p":"M1","m":"vbmc-viqr","x":15,"y":0.88,"lo":0.86,"hi":0.9},
      {"p":"M1","m":"vbmc-viqr","x":30,"y":0.76,"lo":0.73,"hi":0.79},
      {"p":"M1","m":"vbmc-viqr","x":45,"y":0.67,"lo":0.64,"hi":0.7},
      {"p":"M1","m":"vbmc-viqr","x":60,"y":0.61,"lo":0.58,"hi":0.64},
      {"p":"M1","m":"vbmc-viqr","x":80,"y":0.51,"lo":0.49,"hi":0.53},
      {"p":"M1","m":"vbmc-viqr","x":100,"y":0.44,"lo":0.42,"hi":0.46},
      {"p":"M1","m":"vbmc-viqr","x":125,"y":0.38,"lo":0.365,"hi":0.395},
      {"p":"M1","m":"vbmc-viqr","x":150,"y":0.345,"lo":0.33,"hi":0.36},
      {"p":"M1","m":"vbmc-viqr","x":175,"y":0.315,"lo":0.302,"hi":0.328},
      {"p":"M1","m":"vbmc-viqr","x":200,"y":0.295,"lo":0.283,"hi":0.307},
      {"p":"M1","m":"vbmc-viqr","x":225,"y":0.28,"lo":0.269,"hi":0.291},
      {"p":"M1","m":"vbmc-viqr","x":250,"y":0.268,"lo":0.258,"hi":0.278},
      {"p":"M1","m":"vbmc-viqr","x":275,"y":0.26,"lo":0.25,"hi":0.27},
      {"p":"M1","m":"vbmc-viqr","x":300,"y":0.252,"lo":0.243,"hi":0.261},
      {"p":"M1","m":"vbmc-viqr","x":350,"y":0.242,"lo":0.233,"hi":0.251},
      {"p":"M1","m":"vbmc-viqr","x":400,"y":0.23,"lo":0.221,"hi":0.239},

      {"p":"M2","m":"gp-imiqr","x":1,"y":1,"lo":0.99,"hi":1},
      {"p":"M2","m":"gp-imiqr","x":15,"y":0.97,"lo":0.95,"hi":0.99},
      {"p":"M2","m":"gp-imiqr","x":30,"y":0.95,"lo":0.92,"hi":0.97},
      {"p":"M2","m":"gp-imiqr","x":45,"y":0.93,"lo":0.9,"hi":0.96},
      {"p":"M2","m":"gp-imiqr","x":60,"y":0.92,"lo":0.89,"hi":0.95},
      {"p":"M2","m":"gp-imiqr","x":80,"y":0.91,"lo":0.88,"hi":0.94},
      {"p":"M2","m":"gp-imiqr","x":100,"y":0.9,"lo":0.86,"hi":0.93},
      {"p":"M2","m":"gp-imiqr","x":125,"y":0.86,"lo":0.8,"hi":0.91},
      {"p":"M2","m":"gp-imiqr","x":150,"y":0.68,"lo":0.58,"hi":0.86},
      {"p":"M2","m":"gp-imiqr","x":160,"y":0.59,"lo":0.5,"hi":0.8},
      {"p":"M2","m":"gp-imiqr","x":175,"y":0.55,"lo":0.46,"hi":0.72},
      {"p":"M2","m":"gp-imiqr","x":200,"y":0.515,"lo":0.43,"hi":0.62},
      {"p":"M2","m":"gp-imiqr","x":225,"y":0.47,"lo":0.4,"hi":0.56},
      {"p":"M2","m":"gp-imiqr","x":250,"y":0.42,"lo":0.36,"hi":0.5},
      {"p":"M2","m":"gp-imiqr","x":275,"y":0.39,"lo":0.33,"hi":0.46},
      {"p":"M2","m":"gp-imiqr","x":300,"y":0.375,"lo":0.32,"hi":0.44},
      {"p":"M2","m":"gp-imiqr","x":350,"y":0.35,"lo":0.29,"hi":0.4},
      {"p":"M2","m":"gp-imiqr","x":400,"y":0.275,"lo":0.24,"hi":0.32},
      {"p":"M2","m":"vbmc-npro","x":1,"y":1,"lo":0.99,"hi":1},
      {"p":"M2","m":"vbmc-npro","x":15,"y":0.9,"lo":0.87,"hi":0.93},
      {"p":"M2","m":"vbmc-npro","x":30,"y":0.8,"lo":0.76,"hi":0.84},
      {"p":"M2","m":"vbmc-npro","x":45,"y":0.71,"lo":0.67,"hi":0.75},
      {"p":"M2","m":"vbmc-npro","x":60,"y":0.63,"lo":0.59,"hi":0.67},
      {"p":"M2","m":"vbmc-npro","x":80,"y":0.56,"lo":0.52,"hi":0.6},
      {"p":"M2","m":"vbmc-npro","x":100,"y":0.52,"lo":0.48,"hi":0.56},
      {"p":"M2","m":"vbmc-npro","x":125,"y":0.49,"lo":0.45,"hi":0.53},
      {"p":"M2","m":"vbmc-npro","x":150,"y":0.48,"lo":0.44,"hi":0.52},
      {"p":"M2","m":"vbmc-npro","x":200,"y":0.46,"lo":0.42,"hi":0.5},
      {"p":"M2","m":"vbmc-npro","x":250,"y":0.445,"lo":0.405,"hi":0.485},
      {"p":"M2","m":"vbmc-npro","x":300,"y":0.43,"lo":0.39,"hi":0.47},
      {"p":"M2","m":"vbmc-npro","x":350,"y":0.41,"lo":0.37,"hi":0.45},
      {"p":"M2","m":"vbmc-npro","x":400,"y":0.39,"lo":0.35,"hi":0.43},
      {"p":"M2","m":"vbmc-eig","x":1,"y":1,"lo":0.99,"hi":1},
      {"p":"M2","m":"vbmc-eig","x":15,"y":0.88,"lo":0.85,"hi":0.91},
      {"p":"M2","m":"vbmc-eig","x":30,"y":0.76,"lo":0.72,"hi":0.8},
      {"p":"M2","m":"vbmc-eig","x":45,"y":0.67,"lo":0.63,"hi":0.71},
      {"p":"M2","m":"vbmc-eig","x":60,"y":0.6,"lo":0.56,"hi":0.64},
      {"p":"M2","m":"vbmc-eig","x":80,"y":0.52,"lo":0.48,"hi":0.56},
      {"p":"M2","m":"vbmc-eig","x":100,"y":0.45,"lo":0.42,"hi":0.49},
      {"p":"M2","m":"vbmc-eig","x":125,"y":0.39,"lo":0.36,"hi":0.42},
      {"p":"M2","m":"vbmc-eig","x":150,"y":0.34,"lo":0.315,"hi":0.37},
      {"p":"M2","m":"vbmc-eig","x":175,"y":0.305,"lo":0.28,"hi":0.33},
      {"p":"M2","m":"vbmc-eig","x":200,"y":0.28,"lo":0.26,"hi":0.305},
      {"p":"M2","m":"vbmc-eig","x":225,"y":0.26,"lo":0.24,"hi":0.28},
      {"p":"M2","m":"vbmc-eig","x":250,"y":0.245,"lo":0.227,"hi":0.265},
      {"p":"M2","m":"vbmc-eig","x":275,"y":0.232,"lo":0.215,"hi":0.25},
      {"p":"M2","m":"vbmc-eig","x":300,"y":0.222,"lo":0.206,"hi":0.24},
      {"p":"M2","m":"vbmc-eig","x":350,"y":0.21,"lo":0.195,"hi":0.226},
      {"p":"M2","m":"vbmc-eig","x":400,"y":0.2,"lo":0.186,"hi":0.215},
      {"p":"M2","m":"vbmc-imiqr","x":1,"y":1,"lo":0.99,"hi":1},
      {"p":"M2","m":"vbmc-imiqr","x":15,"y":0.87,"lo":0.83,"hi":0.9},
      {"p":"M2","m":"vbmc-imiqr","x":30,"y":0.75,"lo":0.7,"hi":0.79},
      {"p":"M2","m":"vbmc-imiqr","x":45,"y":0.66,"lo":0.61,"hi":0.7},
      {"p":"M2","m":"vbmc-imiqr","x":60,"y":0.59,"lo":0.55,"hi":0.63},
      {"p":"M2","m":"vbmc-imiqr","x":80,"y":0.52,"lo":0.48,"hi":0.56},
      {"p":"M2","m":"vbmc-imiqr","x":100,"y":0.45,"lo":0.42,"hi":0.48},
      {"p":"M2","m":"vbmc-imiqr","x":125,"y":0.38,"lo":0.355,"hi":0.405},
      {"p":"M2","m":"vbmc-imiqr","x":150,"y":0.33,"lo":0.31,"hi":0.35},
      {"p":"M2","m":"vbmc-imiqr","x":175,"y":0.29,"lo":0.27,"hi":0.31},
      {"p":"M2","m":"vbmc-imiqr","x":200,"y":0.26,"lo":0.245,"hi":0.275},
      {"p":"M2","m":"vbmc-imiqr","x":225,"y":0.235,"lo":0.222,"hi":0.25},
      {"p":"M2","m":"vbmc-imiqr","x":250,"y":0.215,"lo":0.203,"hi":0.228},
      {"p":"M2","m":"vbmc-imiqr","x":275,"y":0.2,"lo":0.19,"hi":0.212},
      {"p":"M2","m":"vbmc-imiqr","x":300,"y":0.19,"lo":0.18,"hi":0.2},
      {"p":"M2","m":"vbmc-imiqr","x":350,"y":0.17,"lo":0.161,"hi":0.18},
      {"p":"M2","m":"vbmc-imiqr","x":400,"y":0.155,"lo":0.147,"hi":0.164},
      {"p":"M2","m":"vbmc-viqr","x":1,"y":1,"lo":0.99,"hi":1},
      {"p":"M2","m":"vbmc-viqr","x":15,"y":0.84,"lo":0.81,"hi":0.87},
      {"p":"M2","m":"vbmc-viqr","x":30,"y":0.73,"lo":0.7,"hi":0.76},
      {"p":"M2","m":"vbmc-viqr","x":45,"y":0.67,"lo":0.64,"hi":0.7},
      {"p":"M2","m":"vbmc-viqr","x":60,"y":0.61,"lo":0.58,"hi":0.64},
      {"p":"M2","m":"vbmc-viqr","x":80,"y":0.52,"lo":0.49,"hi":0.55},
      {"p":"M2","m":"vbmc-viqr","x":100,"y":0.44,"lo":0.415,"hi":0.465},
      {"p":"M2","m":"vbmc-viqr","x":125,"y":0.36,"lo":0.34,"hi":0.38},
      {"p":"M2","m":"vbmc-viqr","x":150,"y":0.315,"lo":0.298,"hi":0.332},
      {"p":"M2","m":"vbmc-viqr","x":175,"y":0.28,"lo":0.265,"hi":0.295},
      {"p":"M2","m":"vbmc-viqr","x":200,"y":0.25,"lo":0.237,"hi":0.263},
      {"p":"M2","m":"vbmc-viqr","x":225,"y":0.228,"lo":0.217,"hi":0.24},
      {"p":"M2","m":"vbmc-viqr","x":250,"y":0.207,"lo":0.197,"hi":0.218},
      {"p":"M2","m":"vbmc-viqr","x":275,"y":0.19,"lo":0.181,"hi":0.2},
      {"p":"M2","m":"vbmc-viqr","x":300,"y":0.175,"lo":0.167,"hi":0.184},
      {"p":"M2","m":"vbmc-viqr","x":350,"y":0.157,"lo":0.15,"hi":0.165},
      {"p":"M2","m":"vbmc-viqr","x":400,"y":0.145,"lo":0.138,"hi":0.152},

      {"p":"N1","m":"gp-imiqr","x":1,"y":1,"lo":1,"hi":1},
      {"p":"N1","m":"gp-imiqr","x":450,"y":1,"lo":1,"hi":1},
      {"p":"N1","m":"vbmc-npro","x":1,"y":1,"lo":1,"hi":1},
      {"p":"N1","m":"vbmc-npro","x":50,"y":1,"lo":1,"hi":1},
      {"p":"N1","m":"vbmc-npro","x":100,"y":0.995,"lo":0.98,"hi":1},
      {"p":"N1","m":"vbmc-npro","x":150,"y":0.98,"lo":0.95,"hi":1},
      {"p":"N1","m":"vbmc-npro","x":175,"y":0.97,"lo":0.93,"hi":1},
      {"p":"N1","m":"vbmc-npro","x":200,"y":0.95,"lo":0.9,"hi":0.995},
      {"p":"N1","m":"vbmc-npro","x":225,"y":0.92,"lo":0.84,"hi":0.98},
      {"p":"N1","m":"vbmc-npro","x":250,"y":0.88,"lo":0.77,"hi":0.96},
      {"p":"N1","m":"vbmc-npro","x":280,"y":0.83,"lo":0.7,"hi":0.94},
      {"p":"N1","m":"vbmc-npro","x":300,"y":0.8,"lo":0.67,"hi":0.92},
      {"p":"N1","m":"vbmc-npro","x":330,"y":0.78,"lo":0.65,"hi":0.89},
      {"p":"N1","m":"vbmc-npro","x":350,"y":0.765,"lo":0.64,"hi":0.88},
      {"p":"N1","m":"vbmc-npro","x":375,"y":0.75,"lo":0.63,"hi":0.87},
      {"p":"N1","m":"vbmc-npro","x":400,"y":0.73,"lo":0.62,"hi":0.85},
      {"p":"N1","m":"vbmc-npro","x":425,"y":0.72,"lo":0.62,"hi":0.84},
      {"p":"N1","m":"vbmc-npro","x":450,"y":0.72,"lo":0.62,"hi":0.83},
      {"p":"N1","m":"vbmc-eig","x":1,"y":1,"lo":1,"hi":1},
      {"p":"N1","m":"vbmc-eig","x":50,"y":1,"lo":0.99,"hi":1},
      {"p":"N1","m":"vbmc-eig","x":100,"y":0.99,"lo":0.97,"hi":1},
      {"p":"N1","m":"vbmc-eig","x":150,"y":0.97,"lo":0.93,"hi":1},
      {"p":"N1","m":"vbmc-eig","x":200,"y":0.93,"lo":0.86,"hi":0.98},
      {"p":"N1","m":"vbmc-eig","x":250,"y":0.87,"lo":0.75,"hi":0.95},
      {"p":"N1","m":"vbmc-eig","x":300,"y":0.8,"lo":0.66,"hi":0.92},
      {"p":"N1","m":"vbmc-eig","x":350,"y":0.76,"lo":0.63,"hi":0.89},
      {"p":"N1","m":"vbmc-eig","x":400,"y":0.73,"lo":0.61,"hi":0.86},
      {"p":"N1","m":"vbmc-eig","x":450,"y":0.71,"lo":0.6,"hi":0.84},
      {"p":"N1","m":"vbmc-imiqr","x":1,"y":1,"lo":1,"hi":1},
      {"p":"N1","m":"vbmc-imiqr","x":50,"y":1,"lo":0.99,"hi":1},
      {"p":"N1","m":"vbmc-imiqr","x":100,"y":0.99,"lo":0.97,"hi":1},
      {"p":"N1","m":"vbmc-imiqr","x":150,"y":0.95,"lo":0.9,"hi":0.99},
      {"p":"N1","m":"vbmc-imiqr","x":175,"y":0.92,"lo":0.85,"hi":0.98},
      {"p":"N1","m":"vbmc-imiqr","x":200,"y":0.88,"lo":0.78,"hi":0.97},
      {"p":"N1","m":"vbmc-imiqr","x":225,"y":0.81,"lo":0.7,"hi":0.95},
      {"p":"N1","m":"vbmc-imiqr","x":250,"y":0.76,"lo":0.62,"hi":0.93},
      {"p":"N1","m":"vbmc-imiqr","x":265,"y":0.73,"lo":0.56,"hi":0.92},
      {"p":"N1","m":"vbmc-imiqr","x":280,"y":0.69,"lo":0.5,"hi":0.91},
      {"p":"N1","m":"vbmc-imiqr","x":300,"y":0.65,"lo":0.44,"hi":0.9},
      {"p":"N1","m":"vbmc-imiqr","x":315,"y":0.61,"lo":0.39,"hi":0.89},
      {"p":"N1","m":"vbmc-imiqr","x":330,"y":0.57,"lo":0.34,"hi":0.88},
      {"p":"N1","m":"vbmc-imiqr","x":350,"y":0.52,"lo":0.29,"hi":0.86},
      {"p":"N1","m":"vbmc-imiqr","x":375,"y":0.4,"lo":0.22,"hi":0.82},
      {"p":"N1","m":"vbmc-imiqr","x":400,"y":0.25,"lo":0.17,"hi":0.76},
      {"p":"N1","m":"vbmc-imiqr","x":425,"y":0.2,"lo":0.14,"hi":0.7},
      {"p":"N1","m":"vbmc-imiqr","x":450,"y":0.195,"lo":0.12,"hi":0.67},
      {"p":"N1","m":"vbmc-viqr","x":1,"y":1,"lo":1,"hi":1},
      {"p":"N1","m":"vbmc-viqr","x":50,"y":1,"lo":0.99,"hi":1},
      {"p":"N1","m":"vbmc-viqr","x":100,"y":0.97,"lo":0.95,"hi":0.99},
      {"p":"N1","m":"vbmc-viqr","x":150,"y":0.89,"lo":0.83,"hi":0.94},
      {"p":"N1","m":"vbmc-viqr","x":175,"y":0.83,"lo":0.75,"hi":0.9},
      {"p":"N1","m":"vbmc-viqr","x":200,"y":0.75,"lo":0.63,"hi":0.86},
      {"p":"N1","m":"vbmc-viqr","x":215,"y":0.8,"lo":0.6,"hi":0.86},
      {"p":"N1","m":"vbmc-viqr","x":225,"y":0.7,"lo":0.55,"hi":0.82},
      {"p":"N1","m":"vbmc-viqr","x":250,"y":0.63,"lo":0.45,"hi":0.76},
      {"p":"N1","m":"vbmc-viqr","x":265,"y":0.6,"lo":0.4,"hi":0.72},
      {"p":"N1","m":"vbmc-viqr","x":280,"y":0.58,"lo":0.36,"hi":0.68},
      {"p":"N1","m":"vbmc-viqr","x":295,"y":0.6,"lo":0.33,"hi":0.64},
      {"p":"N1","m":"vbmc-viqr","x":305,"y":0.38,"lo":0.27,"hi":0.58},
      {"p":"N1","m":"vbmc-viqr","x":320,"y":0.26,"lo":0.2,"hi":0.5},
      {"p":"N1","m":"vbmc-viqr","x":350,"y":0.185,"lo":0.15,"hi":0.38},
      {"p":"N1","m":"vbmc-viqr","x":375,"y":0.145,"lo":0.12,"hi":0.3},
      {"p":"N1","m":"vbmc-viqr","x":400,"y":0.125,"lo":0.1,"hi":0.24},
      {"p":"N1","m":"vbmc-viqr","x":425,"y":0.11,"lo":0.09,"hi":0.19},
      {"p":"N1","m":"vbmc-viqr","x":450,"y":0.093,"lo":0.08,"hi":0.15},

      {"p":"N2","m":"gp-imiqr","x":1,"y":1,"lo":1,"hi":1},
      {"p":"N2","m":"gp-imiqr","x":300,"y":1,"lo":0.995,"hi":1},
      {"p":"N2","m":"gp-imiqr","x":450,"y":0.995,"lo":0.99,"hi":1},
      {"p":"N2","m":"vbmc-npro","x":1,"y":1,"lo":1,"hi":1},
      {"p":"N2","m":"vbmc-npro","x":50,"y":1,"lo":0.99,"hi":1},
      {"p":"N2","m":"vbmc-npro","x":100,"y":0.98,"lo":0.96,"hi":1},
      {"p":"N2","m":"vbmc-npro","x":125,"y":0.96,"lo":0.93,"hi":0.99},
      {"p":"N2","m":"vbmc-npro","x":150,"y":0.94,"lo":0.89,"hi":0.98},
      {"p":"N2","m":"vbmc-npro","x":175,"y":0.91,"lo":0.85,"hi":0.97},
      {"p":"N2","m":"vbmc-npro","x":200,"y":0.88,"lo":0.8,"hi":0.96},
      {"p":"N2","m":"vbmc-npro","x":250,"y":0.86,"lo":0.74,"hi":0.95},
      {"p":"N2","m":"vbmc-npro","x":300,"y":0.815,"lo":0.68,"hi":0.93},
      {"p":"N2","m":"vbmc-npro","x":350,"y":0.785,"lo":0.655,"hi":0.9},
      {"p":"N2","m":"vbmc-npro","x":400,"y":0.75,"lo":0.6,"hi":0.87},
      {"p":"N2","m":"vbmc-npro","x":425,"y":0.72,"lo":0.57,"hi":0.85},
      {"p":"N2","m":"vbmc-npro","x":450,"y":0.69,"lo":0.55,"hi":0.84},
      {"p":"N2","m":"vbmc-eig","x":1,"y":1,"lo":1,"hi":1},
      {"p":"N2","m":"vbmc-eig","x":50,"y":1,"lo":0.99,"hi":1},
      {"p":"N2","m":"vbmc-eig","x":100,"y":0.97,"lo":0.95,"hi":0.99},
      {"p":"N2","m":"vbmc-eig","x":150,"y":0.92,"lo":0.87,"hi":0.96},
      {"p":"N2","m":"vbmc-eig","x":200,"y":0.86,"lo":0.76,"hi":0.93},
      {"p":"N2","m":"vbmc-eig","x":250,"y":0.8,"lo":0.64,"hi":0.9},
      {"p":"N2","m":"vbmc-eig","x":300,"y":0.73,"lo":0.52,"hi":0.87},
      {"p":"N2","m":"vbmc-eig","x":350,"y":0.67,"lo":0.4,"hi":0.83},
      {"p":"N2","m":"vbmc-eig","x":400,"y":0.62,"lo":0.3,"hi":0.79},
      {"p":"N2","m":"vbmc-eig","x":450,"y":0.58,"lo":0.24,"hi":0.76},
      {"p":"N2","m":"vbmc-imiqr","x":1,"y":1,"lo":1,"hi":1},
      {"p":"N2","m":"vbmc-imiqr","x":50,"y":0.995,"lo":0.98,"hi":1},
      {"p":"N2","m":"vbmc-imiqr","x":100,"y":0.96,"lo":0.93,"hi":0.99},
      {"p":"N2","m":"vbmc-imiqr","x":125,"y":0.94,"lo":0.9,"hi":0.97},
      {"p":"N2","m":"vbmc-imiqr","x":150,"y":0.9,"lo":0.84,"hi":0.95},
      {"p":"N2","m":"vbmc-imiqr","x":175,"y":0.86,"lo":0.78,"hi":0.93},
      {"p":"N2","m":"vbmc-imiqr","x":200,"y":0.82,"lo":0.7,"hi":0.91},
      {"p":"N2","m":"vbmc-imiqr","x":225,"y":0.77,"lo":0.62,"hi":0.89},
      {"p":"N2","m":"vbmc-imiqr","x":250,"y":0.71,"lo":0.55,"hi":0.88},
      {"p":"N2","m":"vbmc-imiqr","x":265,"y":0.67,"lo":0.5,"hi":0.87},
      {"p":"N2","m":"vbmc-imiqr","x":280,"y":0.63,"lo":0.46,"hi":0.86},
      {"p":"N2","m":"vbmc-imiqr","x":295,"y":0.6,"lo":0.43,"hi":0.85},
      {"p":"N2","m":"vbmc-imiqr","x":305,"y":0.58,"lo":0.4,"hi":0.84},
      {"p":"N2","m":"vbmc-imiqr","x":320,"y":0.55,"lo":0.36,"hi":0.82},
      {"p":"N2","m":"vbmc-imiqr","x":340,"y":0.48,"lo":0.32,"hi":0.8},
      {"p":"N2","m":"vbmc-imiqr","x":360,"y":0.41,"lo":0.29,"hi":0.79},
      {"p":"N2","m":"vbmc-imiqr","x":380,"y":0.37,"lo":0.26,"hi":0.78},
      {"p":"N2","m":"vbmc-imiqr","x":400,"y":0.35,"lo":0.23,"hi":0.77},
      {"p":"N2","m":"vbmc-imiqr","x":425,"y":0.3,"lo":0.21,"hi":0.76},
      {"p":"N2","m":"vbmc-imiqr","x":450,"y":0.25,"lo":0.2,"hi":0.75},
      {"p":"N2","m":"vbmc-viqr","x":1,"y":1,"lo":1,"hi":1},
      {"p":"N2","m":"vbmc-viqr","x":50,"y":1,"lo":0.99,"hi":1},
      {"p":"N2","m":"vbmc-viqr","x":100,"y":0.96,"lo":0.93,"hi":0.99},
      {"p":"N2","m":"vbmc-viqr","x":125,"y":0.92,"lo":0.88,"hi":0.96},
      {"p":"N2","m":"vbmc-viqr","x":150,"y":0.88,"lo":0.8,"hi":0.94},
      {"p":"N2","m":"vbmc-viqr","x":175,"y":0.82,"lo":0.72,"hi":0.9},
      {"p":"N2","m":"vbmc-viqr","x":200,"y":0.76,"lo":0.63,"hi":0.86},
      {"p":"N2","m":"vbmc-viqr","x":225,"y":0.7,"lo":0.55,"hi":0.83},
      {"p":"N2","m":"vbmc-viqr","x":250,"y":0.64,"lo":0.48,"hi":0.8},
      {"p":"N2","m":"vbmc-viqr","x":265,"y":0.61,"lo":0.45,"hi":0.78},
      {"p":"N2","m":"vbmc-viqr","x":280,"y":0.6,"lo":0.42,"hi":0.75},
      {"p":"N2","m":"vbmc-viqr","x":295,"y":0.59,"lo":0.38,"hi":0.7},
      {"p":"N2","m":"vbmc-viqr","x":305,"y":0.44,"lo":0.34,"hi":0.66},
      {"p":"N2","m":"vbmc-viqr","x":320,"y":0.34,"lo":0.28,"hi":0.58},
      {"p":"N2","m":"vbmc-viqr","x":340,"y":0.3,"lo":0.23,"hi":0.5},
      {"p":"N2","m":"vbmc-viqr","x":360,"y":0.28,"lo":0.2,"hi":0.42},
      {"p":"N2","m":"vbmc-viqr","x":380,"y":0.25,"lo":0.17,"hi":0.37},
      {"p":"N2","m":"vbmc-viqr","x":400,"y":0.22,"lo":0.15,"hi":0.32},
      {"p":"N2","m":"vbmc-viqr","x":425,"y":0.18,"lo":0.13,"hi":0.26},
      {"p":"N2","m":"vbmc-viqr","x":450,"y":0.145,"lo":0.12,"hi":0.22},

      {"p":"Ro","m":"gp-imiqr","x":10,"y":0.995,"lo":0.99,"hi":1},
      {"p":"Ro","m":"gp-imiqr","x":50,"y":0.99,"lo":0.98,"hi":1},
      {"p":"Ro","m":"gp-imiqr","x":60,"y":0.97,"lo":0.95,"hi":0.99},
      {"p":"Ro","m":"gp-imiqr","x":70,"y":0.88,"lo":0.85,"hi":0.91},
      {"p":"Ro","m":"gp-imiqr","x":80,"y":0.73,"lo":0.7,"hi":0.76},
      {"p":"Ro","m":"gp-imiqr","x":90,"y":0.62,"lo":0.6,"hi":0.64},
      {"p":"Ro","m":"gp-imiqr","x":100,"y":0.55,"lo":0.53,"hi":0.57},
      {"p":"Ro","m":"gp-imiqr","x":125,"y":0.51,"lo":0.495,"hi":0.525},
      {"p":"Ro","m":"gp-imiqr","x":150,"y":0.494,"lo":0.48,"hi":0.508},
      {"p":"Ro","m":"gp-imiqr","x":200,"y":0.46,"lo":0.447,"hi":0.473},
      {"p":"Ro","m":"gp-imiqr","x":250,"y":0.44,"lo":0.428,"hi":0.452},
      {"p":"Ro","m":"gp-imiqr","x":300,"y":0.43,"lo":0.418,"hi":0.442},
      {"p":"Ro","m":"gp-imiqr","x":350,"y":0.415,"lo":0.403,"hi":0.427},
      {"p":"Ro","m":"gp-imiqr","x":400,"y":0.4,"lo":0.388,"hi":0.412},
      {"p":"Ro","m":"gp-imiqr","x":450,"y":0.39,"lo":0.378,"hi":0.402},
      {"p":"Ro","m":"gp-imiqr","x":500,"y":0.378,"lo":0.366,"hi":0.39},
      {"p":"Ro","m":"gp-imiqr","x":550,"y":0.367,"lo":0.355,"hi":0.379},
      {"p":"Ro","m":"vbmc-npro","x":10,"y":0.995,"lo":0.99,"hi":1},
      {"p":"Ro","m":"vbmc-npro","x":50,"y":0.99,"lo":0.98,"hi":1},
      {"p":"Ro","m":"vbmc-npro","x":60,"y":0.975,"lo":0.96,"hi":0.99},
      {"p":"Ro","m":"vbmc-npro","x":70,"y":0.93,"lo":0.9,"hi":0.96},
      {"p":"Ro","m":"vbmc-npro","x":80,"y":0.9,"lo":0.87,"hi":0.93},
      {"p":"Ro","m":"vbmc-npro","x":90,"y":0.87,"lo":0.84,"hi":0.9},
      {"p":"Ro","m":"vbmc-npro","x":100,"y":0.85,"lo":0.82,"hi":0.88},
      {"p":"Ro","m":"vbmc-npro","x":125,"y":0.8,"lo":0.77,"hi":0.83},
      {"p":"Ro","m":"vbmc-npro","x":150,"y":0.77,"lo":0.74,"hi":0.8},
      {"p":"Ro","m":"vbmc-npro","x":200,"y":0.7,"lo":0.675,"hi":0.725},
      {"p":"Ro","m":"vbmc-npro","x":250,"y":0.665,"lo":0.64,"hi":0.69},
      {"p":"Ro","m":"vbmc-npro","x":300,"y":0.64,"lo":0.615,"hi":0.665},
      {"p":"Ro","m":"vbmc-npro","x":350,"y":0.63,"lo":0.605,"hi":0.655},
      {"p":"Ro","m":"vbmc-npro","x":400,"y":0.625,"lo":0.6,"hi":0.65},
      {"p":"Ro","m":"vbmc-npro","x":450,"y":0.62,"lo":0.595,"hi":0.645},
      {"p":"Ro","m":"vbmc-npro","x":500,"y":0.612,"lo":0.587,"hi":0.637},
      {"p":"Ro","m":"vbmc-npro","x":550,"y":0.61,"lo":0.585,"hi":0.635},
      {"p":"Ro","m":"vbmc-eig","x":10,"y":0.995,"lo":0.99,"hi":1},
      {"p":"Ro","m":"vbmc-eig","x":50,"y":0.99,"lo":0.98,"hi":1},
      {"p":"Ro","m":"vbmc-eig","x":60,"y":0.97,"lo":0.95,"hi":0.99},
      {"p":"Ro","m":"vbmc-eig","x":70,"y":0.88,"lo":0.85,"hi":0.91},
      {"p":"Ro","m":"vbmc-eig","x":80,"y":0.74,"lo":0.71,"hi":0.77},
      {"p":"Ro","m":"vbmc-eig","x":90,"y":0.64,"lo":0.61,"hi":0.67},
      {"p":"Ro","m":"vbmc-eig","x":100,"y":0.58,"lo":0.555,"hi":0.605},
      {"p":"Ro","m":"vbmc-eig","x":125,"y":0.54,"lo":0.515,"hi":0.565},
      {"p":"Ro","m":"vbmc-eig","x":150,"y":0.515,"lo":0.49,"hi":0.54},
      {"p":"Ro","m":"vbmc-eig","x":200,"y":0.49,"lo":0.467,"hi":0.513},
      {"p":"Ro","m":"vbmc-eig","x":250,"y":0.47,"lo":0.448,"hi":0.492},
      {"p":"Ro","m":"vbmc-eig","x":300,"y":0.455,"lo":0.433,"hi":0.477},
      {"p":"Ro","m":"vbmc-eig","x":350,"y":0.445,"lo":0.423,"hi":0.467},
      {"p":"Ro","m":"vbmc-eig","x":400,"y":0.435,"lo":0.413,"hi":0.457},
      {"p":"Ro","m":"vbmc-eig","x":450,"y":0.425,"lo":0.403,"hi":0.447},
      {"p":"Ro","m":"vbmc-eig","x":500,"y":0.415,"lo":0.393,"hi":0.437},
      {"p":"Ro","m":"vbmc-eig","x":550,"y":0.41,"lo":0.388,"hi":0.432},
      {"p":"Ro","m":"vbmc-imiqr","x":10,"y":0.995,"lo":0.99,"hi":1},
      {"p":"Ro","m":"vbmc-imiqr","x":50,"y":0.99,"lo":0.98,"hi":1},
      {"p":"Ro","m":"vbmc-imiqr","x":60,"y":0.97,"lo":0.95,"hi":0.99},
      {"p":"Ro","m":"vbmc-imiqr","x":70,"y":0.87,"lo":0.84,"hi":0.9},
      {"p":"Ro","m":"vbmc-imiqr","x":80,"y":0.72,"lo":0.69,"hi":0.75},
      {"p":"Ro","m":"vbmc-imiqr","x":90,"y":0.6,"lo":0.57,"hi":0.63},
      {"p":"Ro","m":"vbmc-imiqr","x":100,"y":0.54,"lo":0.515,"hi":0.565},
      {"p":"Ro","m":"vbmc-imiqr","x":125,"y":0.475,"lo":0.455,"hi":0.495},
      {"p":"Ro","m":"vbmc-imiqr","x":150,"y":0.44,"lo":0.42,"hi":0.46},
      {"p":"Ro","m":"vbmc-imiqr","x":200,"y":0.38,"lo":0.362,"hi":0.398},
      {"p":"Ro","m":"vbmc-imiqr","x":250,"y":0.335,"lo":0.318,"hi":0.352},
      {"p":"Ro","m":"vbmc-imiqr","x":300,"y":0.3,"lo":0.284,"hi":0.316},
      {"p":"Ro","m":"vbmc-imiqr","x":350,"y":0.27,"lo":0.255,"hi":0.285},
      {"p":"Ro","m":"vbmc-imiqr","x":400,"y":0.245,"lo":0.231,"hi":0.259},
      {"p":"Ro","m":"vbmc-imiqr","x":450,"y":0.225,"lo":0.211,"hi":0.239},
      {"p":"Ro","m":"vbmc-imiqr","x":500,"y":0.207,"lo":0.194,"hi":0.22},
      {"p":"Ro","m":"vbmc-imiqr","x":550,"y":0.195,"lo":0.182,"hi":0.208},
      {"p":"Ro","m":"vbmc-viqr","x":10,"y":0.995,"lo":0.99,"hi":1},
      {"p":"Ro","m":"vbmc-viqr","x":50,"y":0.99,"lo":0.98,"hi":1},
      {"p":"Ro","m":"vbmc-viqr","x":60,"y":0.97,"lo":0.95,"hi":0.99},
      {"p":"Ro","m":"vbmc-viqr","x":70,"y":0.87,"lo":0.84,"hi":0.9},
      {"p":"Ro","m":"vbmc-viqr","x":80,"y":0.71,"lo":0.68,"hi":0.74},
      {"p":"Ro","m":"vbmc-viqr","x":90,"y":0.58,"lo":0.55,"hi":0.61},
      {"p":"Ro","m":"vbmc-viqr","x":100,"y":0.51,"lo":0.49,"hi":0.53},
      {"p":"Ro","m":"vbmc-viqr","x":125,"y":0.47,"lo":0.455,"hi":0.485},
      {"p":"Ro","m":"vbmc-viqr","x":150,"y":0.445,"lo":0.43,"hi":0.46},
      {"p":"Ro","m":"vbmc-viqr","x":200,"y":0.4,"lo":0.385,"hi":0.415},
      {"p":"Ro","m":"vbmc-viqr","x":250,"y":0.365,"lo":0.35,"hi":0.38},
      {"p":"Ro","m":"vbmc-viqr","x":300,"y":0.337,"lo":0.32,"hi":0.354},
      {"p":"Ro","m":"vbmc-viqr","x":350,"y":0.325,"lo":0.305,"hi":0.345},
      {"p":"Ro","m":"vbmc-viqr","x":400,"y":0.305,"lo":0.275,"hi":0.335},
      {"p":"Ro","m":"vbmc-viqr","x":425,"y":0.285,"lo":0.25,"hi":0.33},
      {"p":"Ro","m":"vbmc-viqr","x":460,"y":0.305,"lo":0.26,"hi":0.345},
      {"p":"Ro","m":"vbmc-viqr","x":500,"y":0.26,"lo":0.225,"hi":0.32},
      {"p":"Ro","m":"vbmc-viqr","x":550,"y":0.23,"lo":0.2,"hi":0.29}
    ]
  },
  "columns": 5,
  "spacing": {"row": 51, "column": 51.6},
  "bounds": "flush",
  "resolve": {"legend": {"color": "independent", "strokeDash": "independent"}},
  "concat": [
    {
      "width": 116, "height": 157, "title": "Ricker",
      "transform": [{"filter": "datum.p == 'R'"}],
      "layer": [
        {"mark": {"type": "area", "fillOpacity": 0.5},
         "encoding": {
           "x": {"field": "x", "type": "quantitative", "scale": {"domain": [0, 250], "nice": false}, "axis": {"values": [100, 200], "format": "d", "title": null}},
           "y": {"field": "lo", "type": "quantitative", "scale": {"domain": [0, 1], "nice": false}, "axis": {"values": [0, 0.2, 0.4, 0.6, 0.8, 1], "format": "~g", "labelOverlap": false, "title": "MMTV (90% quantile)"}},
           "y2": {"field": "hi"},
           "fill": {"field": "m", "type": "nominal", "legend": null, "scale": {"domain": ["gp-imiqr", "vbmc-npro", "vbmc-eig", "vbmc-imiqr", "vbmc-viqr"], "range": ["#33a02c", "#b2df8a", "#a6cee3", "#1f78b4", "#000000"]}}}},
        {"data": {"values": [{"v": 0.2}]}, "mark": {"type": "rule", "color": "#8c8c8c", "strokeDash": [4, 3], "strokeWidth": 1}, "encoding": {"y": {"field": "v", "type": "quantitative", "axis": {"values": [0, 0.2, 0.4, 0.6, 0.8, 1], "format": "~g", "labelOverlap": false, "title": "MMTV (90% quantile)"}}}},
        {"mark": {"type": "line", "strokeWidth": 1.6},
         "encoding": {
           "x": {"field": "x", "type": "quantitative"},
           "y": {"field": "y", "type": "quantitative", "axis": {"values": [0, 0.2, 0.4, 0.6, 0.8, 1], "format": "~g", "labelOverlap": false, "title": "MMTV (90% quantile)"}},
           "color": {"field": "m", "type": "nominal", "legend": null, "scale": {"domain": ["gp-imiqr", "vbmc-npro", "vbmc-eig", "vbmc-imiqr", "vbmc-viqr"], "range": ["#33a02c", "#b2df8a", "#a6cee3", "#1f78b4", "#000000"]}},
           "strokeDash": {"field": "m", "type": "nominal", "legend": null, "scale": {"domain": ["gp-imiqr", "vbmc-npro", "vbmc-eig", "vbmc-imiqr", "vbmc-viqr"], "range": [[1, 0], [1, 0], [5, 3], [1.5, 2], [1, 0]]}}}},
        {"data": {"name": "labels"}, "transform": [{"filter": "datum.p == 'R'"}],
         "mark": {"type": "text", "align": "right", "baseline": "middle", "fontSize": 12, "font": "Liberation Sans"},
         "encoding": {"x": {"field": "x", "type": "quantitative"}, "y": {"field": "y", "type": "quantitative", "axis": {"values": [0, 0.2, 0.4, 0.6, 0.8, 1], "format": "~g", "labelOverlap": false, "title": "MMTV (90% quantile)"}}, "text": {"field": "t"}}}
      ]
    },
    {
      "width": 116, "height": 157, "title": "aDDM (S1)",
      "transform": [{"filter": "datum.p == 'A1'"}],
      "layer": [
        {"mark": {"type": "area", "fillOpacity": 0.5},
         "encoding": {
           "x": {"field": "x", "type": "quantitative", "scale": {"domain": [0, 300], "nice": false}, "axis": {"values": [100, 200, 300], "format": "d", "title": null}},
           "y": {"field": "lo", "type": "quantitative", "scale": {"domain": [0, 1], "nice": false}, "axis": {"values": [0, 0.2, 0.4, 0.6, 0.8, 1], "format": "~g", "labelOverlap": false, "title": null}},
           "y2": {"field": "hi"},
           "fill": {"field": "m", "type": "nominal", "legend": null, "scale": {"domain": ["gp-imiqr", "vbmc-npro", "vbmc-eig", "vbmc-imiqr", "vbmc-viqr"], "range": ["#33a02c", "#b2df8a", "#a6cee3", "#1f78b4", "#000000"]}}}},
        {"data": {"values": [{"v": 0.2}]}, "mark": {"type": "rule", "color": "#8c8c8c", "strokeDash": [4, 3], "strokeWidth": 1}, "encoding": {"y": {"field": "v", "type": "quantitative", "axis": {"values": [0, 0.2, 0.4, 0.6, 0.8, 1], "format": "~g", "labelOverlap": false, "title": null}}}},
        {"mark": {"type": "line", "strokeWidth": 1.6},
         "encoding": {
           "x": {"field": "x", "type": "quantitative"},
           "y": {"field": "y", "type": "quantitative", "axis": {"values": [0, 0.2, 0.4, 0.6, 0.8, 1], "format": "~g", "labelOverlap": false, "title": null}},
           "color": {"field": "m", "type": "nominal", "legend": null, "scale": {"domain": ["gp-imiqr", "vbmc-npro", "vbmc-eig", "vbmc-imiqr", "vbmc-viqr"], "range": ["#33a02c", "#b2df8a", "#a6cee3", "#1f78b4", "#000000"]}},
           "strokeDash": {"field": "m", "type": "nominal", "legend": null, "scale": {"domain": ["gp-imiqr", "vbmc-npro", "vbmc-eig", "vbmc-imiqr", "vbmc-viqr"], "range": [[1, 0], [1, 0], [5, 3], [1.5, 2], [1, 0]]}}}},
        {"data": {"name": "labels"}, "transform": [{"filter": "datum.p == 'A1'"}],
         "mark": {"type": "text", "align": "right", "baseline": "middle", "fontSize": 12, "font": "Liberation Sans"},
         "encoding": {"x": {"field": "x", "type": "quantitative"}, "y": {"field": "y", "type": "quantitative", "axis": {"values": [0, 0.2, 0.4, 0.6, 0.8, 1], "format": "~g", "labelOverlap": false, "title": null}}, "text": {"field": "t"}}}
      ]
    },
    {
      "width": 116, "height": 157, "title": "aDDM (S2)",
      "transform": [{"filter": "datum.p == 'A2'"}],
      "layer": [
        {"mark": {"type": "area", "fillOpacity": 0.5},
         "encoding": {
           "x": {"field": "x", "type": "quantitative", "scale": {"domain": [0, 300], "nice": false}, "axis": {"values": [100, 200, 300], "format": "d", "title": null}},
           "y": {"field": "lo", "type": "quantitative", "scale": {"domain": [0, 1], "nice": false}, "axis": {"values": [0, 0.2, 0.4, 0.6, 0.8, 1], "format": "~g", "labelOverlap": false, "title": null}},
           "y2": {"field": "hi"},
           "fill": {"field": "m", "type": "nominal", "legend": null, "scale": {"domain": ["gp-imiqr", "vbmc-npro", "vbmc-eig", "vbmc-imiqr", "vbmc-viqr"], "range": ["#33a02c", "#b2df8a", "#a6cee3", "#1f78b4", "#000000"]}}}},
        {"data": {"values": [{"v": 0.2}]}, "mark": {"type": "rule", "color": "#8c8c8c", "strokeDash": [4, 3], "strokeWidth": 1}, "encoding": {"y": {"field": "v", "type": "quantitative", "axis": {"values": [0, 0.2, 0.4, 0.6, 0.8, 1], "format": "~g", "labelOverlap": false, "title": null}}}},
        {"mark": {"type": "line", "strokeWidth": 1.6},
         "encoding": {
           "x": {"field": "x", "type": "quantitative"},
           "y": {"field": "y", "type": "quantitative", "axis": {"values": [0, 0.2, 0.4, 0.6, 0.8, 1], "format": "~g", "labelOverlap": false, "title": null}},
           "color": {"field": "m", "type": "nominal", "legend": null, "scale": {"domain": ["gp-imiqr", "vbmc-npro", "vbmc-eig", "vbmc-imiqr", "vbmc-viqr"], "range": ["#33a02c", "#b2df8a", "#a6cee3", "#1f78b4", "#000000"]}},
           "strokeDash": {"field": "m", "type": "nominal", "legend": null, "scale": {"domain": ["gp-imiqr", "vbmc-npro", "vbmc-eig", "vbmc-imiqr", "vbmc-viqr"], "range": [[1, 0], [1, 0], [5, 3], [1.5, 2], [1, 0]]}}}},
        {"data": {"name": "labels"}, "transform": [{"filter": "datum.p == 'A2'"}],
         "mark": {"type": "text", "align": "right", "baseline": "middle", "fontSize": 12, "font": "Liberation Sans"},
         "encoding": {"x": {"field": "x", "type": "quantitative"}, "y": {"field": "y", "type": "quantitative", "axis": {"values": [0, 0.2, 0.4, 0.6, 0.8, 1], "format": "~g", "labelOverlap": false, "title": null}}, "text": {"field": "t"}}}
      ]
    },
    {
      "width": 116, "height": 157, "title": "Timing",
      "transform": [{"filter": "datum.p == 'T'"}],
      "layer": [
        {"mark": {"type": "area", "fillOpacity": 0.5},
         "encoding": {
           "x": {"field": "x", "type": "quantitative", "scale": {"domain": [0, 350], "nice": false}, "axis": {"values": [100, 200, 300], "format": "d", "title": null}},
           "y": {"field": "lo", "type": "quantitative", "scale": {"domain": [0, 1], "nice": false}, "axis": {"values": [0, 0.2, 0.4, 0.6, 0.8, 1], "format": "~g", "labelOverlap": false, "title": null}},
           "y2": {"field": "hi"},
           "fill": {"field": "m", "type": "nominal", "legend": null, "scale": {"domain": ["gp-imiqr", "vbmc-npro", "vbmc-eig", "vbmc-imiqr", "vbmc-viqr"], "range": ["#33a02c", "#b2df8a", "#a6cee3", "#1f78b4", "#000000"]}}}},
        {"data": {"values": [{"v": 0.2}]}, "mark": {"type": "rule", "color": "#8c8c8c", "strokeDash": [4, 3], "strokeWidth": 1}, "encoding": {"y": {"field": "v", "type": "quantitative", "axis": {"values": [0, 0.2, 0.4, 0.6, 0.8, 1], "format": "~g", "labelOverlap": false, "title": null}}}},
        {"mark": {"type": "line", "strokeWidth": 1.6},
         "encoding": {
           "x": {"field": "x", "type": "quantitative"},
           "y": {"field": "y", "type": "quantitative", "axis": {"values": [0, 0.2, 0.4, 0.6, 0.8, 1], "format": "~g", "labelOverlap": false, "title": null}},
           "color": {"field": "m", "type": "nominal", "legend": null, "scale": {"domain": ["gp-imiqr", "vbmc-npro", "vbmc-eig", "vbmc-imiqr", "vbmc-viqr"], "range": ["#33a02c", "#b2df8a", "#a6cee3", "#1f78b4", "#000000"]}},
           "strokeDash": {"field": "m", "type": "nominal", "legend": null, "scale": {"domain": ["gp-imiqr", "vbmc-npro", "vbmc-eig", "vbmc-imiqr", "vbmc-viqr"], "range": [[1, 0], [1, 0], [5, 3], [1.5, 2], [1, 0]]}}}},
        {"data": {"name": "labels"}, "transform": [{"filter": "datum.p == 'T'"}],
         "mark": {"type": "text", "align": "right", "baseline": "middle", "fontSize": 12, "font": "Liberation Sans"},
         "encoding": {"x": {"field": "x", "type": "quantitative"}, "y": {"field": "y", "type": "quantitative", "axis": {"values": [0, 0.2, 0.4, 0.6, 0.8, 1], "format": "~g", "labelOverlap": false, "title": null}}, "text": {"field": "t"}}}
      ]
    },
    {
      "width": 116, "height": 157,
      "data": {"name": "methods"},
      "mark": {"type": "line", "strokeWidth": 1.6},
      "encoding": {
        "x": {"value": 0},
        "y": {"value": 0},
        "color": {"field": "m", "type": "nominal", "title": null, "scale": {"domain": ["gp-imiqr", "vbmc-npro", "vbmc-eig", "vbmc-imiqr", "vbmc-viqr"], "range": ["#33a02c", "#b2df8a", "#a6cee3", "#1f78b4", "#000000"]},
          "legend": {"orient": "top-left", "offset": 5, "symbolType": "stroke", "symbolSize": 300, "symbolStrokeWidth": 2, "labelFont": "Liberation Sans", "labelFontSize": 14.5, "labelColor": "#000000", "labelOffset": 1, "rowPadding": 0, "padding": 0}},
        "strokeDash": {"field": "m", "type": "nominal", "title": null, "scale": {"domain": ["gp-imiqr", "vbmc-npro", "vbmc-eig", "vbmc-imiqr", "vbmc-viqr"], "range": [[1, 0], [1, 0], [5, 3], [1.5, 2], [1, 0]]},
          "legend": {"orient": "top-left", "offset": 5, "symbolType": "stroke", "symbolSize": 300, "symbolStrokeWidth": 2, "labelFont": "Liberation Sans", "labelFontSize": 14.5, "labelColor": "#000000", "labelOffset": 1, "rowPadding": 0, "padding": 0}}
      }
    },
    {
      "width": 116, "height": 157, "title": "Multisensory (S1)",
      "transform": [{"filter": "datum.p == 'M1'"}],
      "layer": [
        {"mark": {"type": "area", "fillOpacity": 0.5},
         "encoding": {
           "x": {"field": "x", "type": "quantitative", "scale": {"domain": [0, 400], "nice": false}, "axis": {"values": [200, 400], "format": "d", "title": "Function evaluations"}},
           "y": {"field": "lo", "type": "quantitative", "scale": {"domain": [0, 1], "nice": false}, "axis": {"values": [0, 0.2, 0.4, 0.6, 0.8, 1], "format": "~g", "labelOverlap": false, "title": "MMTV (90% quantile)"}},
           "y2": {"field": "hi"},
           "fill": {"field": "m", "type": "nominal", "legend": null, "scale": {"domain": ["gp-imiqr", "vbmc-npro", "vbmc-eig", "vbmc-imiqr", "vbmc-viqr"], "range": ["#33a02c", "#b2df8a", "#a6cee3", "#1f78b4", "#000000"]}}}},
        {"data": {"values": [{"v": 0.2}]}, "mark": {"type": "rule", "color": "#8c8c8c", "strokeDash": [4, 3], "strokeWidth": 1}, "encoding": {"y": {"field": "v", "type": "quantitative", "axis": {"values": [0, 0.2, 0.4, 0.6, 0.8, 1], "format": "~g", "labelOverlap": false, "title": "MMTV (90% quantile)"}}}},
        {"mark": {"type": "line", "strokeWidth": 1.6},
         "encoding": {
           "x": {"field": "x", "type": "quantitative"},
           "y": {"field": "y", "type": "quantitative", "axis": {"values": [0, 0.2, 0.4, 0.6, 0.8, 1], "format": "~g", "labelOverlap": false, "title": "MMTV (90% quantile)"}},
           "color": {"field": "m", "type": "nominal", "legend": null, "scale": {"domain": ["gp-imiqr", "vbmc-npro", "vbmc-eig", "vbmc-imiqr", "vbmc-viqr"], "range": ["#33a02c", "#b2df8a", "#a6cee3", "#1f78b4", "#000000"]}},
           "strokeDash": {"field": "m", "type": "nominal", "legend": null, "scale": {"domain": ["gp-imiqr", "vbmc-npro", "vbmc-eig", "vbmc-imiqr", "vbmc-viqr"], "range": [[1, 0], [1, 0], [5, 3], [1.5, 2], [1, 0]]}}}},
        {"data": {"name": "labels"}, "transform": [{"filter": "datum.p == 'M1'"}],
         "mark": {"type": "text", "align": "right", "baseline": "middle", "fontSize": 12, "font": "Liberation Sans"},
         "encoding": {"x": {"field": "x", "type": "quantitative"}, "y": {"field": "y", "type": "quantitative", "axis": {"values": [0, 0.2, 0.4, 0.6, 0.8, 1], "format": "~g", "labelOverlap": false, "title": "MMTV (90% quantile)"}}, "text": {"field": "t"}}}
      ]
    },
    {
      "width": 116, "height": 157, "title": "Multisensory (S2)",
      "transform": [{"filter": "datum.p == 'M2'"}],
      "layer": [
        {"mark": {"type": "area", "fillOpacity": 0.5},
         "encoding": {
           "x": {"field": "x", "type": "quantitative", "scale": {"domain": [0, 400], "nice": false}, "axis": {"values": [200, 400], "format": "d", "title": "Function evaluations"}},
           "y": {"field": "lo", "type": "quantitative", "scale": {"domain": [0, 1], "nice": false}, "axis": {"values": [0, 0.2, 0.4, 0.6, 0.8, 1], "format": "~g", "labelOverlap": false, "title": null}},
           "y2": {"field": "hi"},
           "fill": {"field": "m", "type": "nominal", "legend": null, "scale": {"domain": ["gp-imiqr", "vbmc-npro", "vbmc-eig", "vbmc-imiqr", "vbmc-viqr"], "range": ["#33a02c", "#b2df8a", "#a6cee3", "#1f78b4", "#000000"]}}}},
        {"data": {"values": [{"v": 0.2}]}, "mark": {"type": "rule", "color": "#8c8c8c", "strokeDash": [4, 3], "strokeWidth": 1}, "encoding": {"y": {"field": "v", "type": "quantitative", "axis": {"values": [0, 0.2, 0.4, 0.6, 0.8, 1], "format": "~g", "labelOverlap": false, "title": null}}}},
        {"mark": {"type": "line", "strokeWidth": 1.6},
         "encoding": {
           "x": {"field": "x", "type": "quantitative"},
           "y": {"field": "y", "type": "quantitative", "axis": {"values": [0, 0.2, 0.4, 0.6, 0.8, 1], "format": "~g", "labelOverlap": false, "title": null}},
           "color": {"field": "m", "type": "nominal", "legend": null, "scale": {"domain": ["gp-imiqr", "vbmc-npro", "vbmc-eig", "vbmc-imiqr", "vbmc-viqr"], "range": ["#33a02c", "#b2df8a", "#a6cee3", "#1f78b4", "#000000"]}},
           "strokeDash": {"field": "m", "type": "nominal", "legend": null, "scale": {"domain": ["gp-imiqr", "vbmc-npro", "vbmc-eig", "vbmc-imiqr", "vbmc-viqr"], "range": [[1, 0], [1, 0], [5, 3], [1.5, 2], [1, 0]]}}}},
        {"data": {"name": "labels"}, "transform": [{"filter": "datum.p == 'M2'"}],
         "mark": {"type": "text", "align": "right", "baseline": "middle", "fontSize": 12, "font": "Liberation Sans"},
         "encoding": {"x": {"field": "x", "type": "quantitative"}, "y": {"field": "y", "type": "quantitative", "axis": {"values": [0, 0.2, 0.4, 0.6, 0.8, 1], "format": "~g", "labelOverlap": false, "title": null}}, "text": {"field": "t"}}}
      ]
    },
    {
      "width": 116, "height": 157, "title": "Neuronal (V1)",
      "transform": [{"filter": "datum.p == 'N1'"}],
      "layer": [
        {"mark": {"type": "area", "fillOpacity": 0.5},
         "encoding": {
           "x": {"field": "x", "type": "quantitative", "scale": {"domain": [0, 450], "nice": false}, "axis": {"values": [200, 400], "format": "d", "title": "Function evaluations"}},
           "y": {"field": "lo", "type": "quantitative", "scale": {"domain": [0, 1], "nice": false}, "axis": {"values": [0, 0.2, 0.4, 0.6, 0.8, 1], "format": "~g", "labelOverlap": false, "title": null}},
           "y2": {"field": "hi"},
           "fill": {"field": "m", "type": "nominal", "legend": null, "scale": {"domain": ["gp-imiqr", "vbmc-npro", "vbmc-eig", "vbmc-imiqr", "vbmc-viqr"], "range": ["#33a02c", "#b2df8a", "#a6cee3", "#1f78b4", "#000000"]}}}},
        {"data": {"values": [{"v": 0.2}]}, "mark": {"type": "rule", "color": "#8c8c8c", "strokeDash": [4, 3], "strokeWidth": 1}, "encoding": {"y": {"field": "v", "type": "quantitative", "axis": {"values": [0, 0.2, 0.4, 0.6, 0.8, 1], "format": "~g", "labelOverlap": false, "title": null}}}},
        {"mark": {"type": "line", "strokeWidth": 1.6},
         "encoding": {
           "x": {"field": "x", "type": "quantitative"},
           "y": {"field": "y", "type": "quantitative", "axis": {"values": [0, 0.2, 0.4, 0.6, 0.8, 1], "format": "~g", "labelOverlap": false, "title": null}},
           "color": {"field": "m", "type": "nominal", "legend": null, "scale": {"domain": ["gp-imiqr", "vbmc-npro", "vbmc-eig", "vbmc-imiqr", "vbmc-viqr"], "range": ["#33a02c", "#b2df8a", "#a6cee3", "#1f78b4", "#000000"]}},
           "strokeDash": {"field": "m", "type": "nominal", "legend": null, "scale": {"domain": ["gp-imiqr", "vbmc-npro", "vbmc-eig", "vbmc-imiqr", "vbmc-viqr"], "range": [[1, 0], [1, 0], [5, 3], [1.5, 2], [1, 0]]}}}},
        {"data": {"name": "labels"}, "transform": [{"filter": "datum.p == 'N1'"}],
         "mark": {"type": "text", "align": "right", "baseline": "middle", "fontSize": 12, "font": "Liberation Sans"},
         "encoding": {"x": {"field": "x", "type": "quantitative"}, "y": {"field": "y", "type": "quantitative", "axis": {"values": [0, 0.2, 0.4, 0.6, 0.8, 1], "format": "~g", "labelOverlap": false, "title": null}}, "text": {"field": "t"}}}
      ]
    },
    {
      "width": 116, "height": 157, "title": "Neuronal (V2)",
      "transform": [{"filter": "datum.p == 'N2'"}],
      "layer": [
        {"mark": {"type": "area", "fillOpacity": 0.5},
         "encoding": {
           "x": {"field": "x", "type": "quantitative", "scale": {"domain": [0, 450], "nice": false}, "axis": {"values": [200, 400], "format": "d", "title": "Function evaluations"}},
           "y": {"field": "lo", "type": "quantitative", "scale": {"domain": [0, 1], "nice": false}, "axis": {"values": [0, 0.2, 0.4, 0.6, 0.8, 1], "format": "~g", "labelOverlap": false, "title": null}},
           "y2": {"field": "hi"},
           "fill": {"field": "m", "type": "nominal", "legend": null, "scale": {"domain": ["gp-imiqr", "vbmc-npro", "vbmc-eig", "vbmc-imiqr", "vbmc-viqr"], "range": ["#33a02c", "#b2df8a", "#a6cee3", "#1f78b4", "#000000"]}}}},
        {"data": {"values": [{"v": 0.2}]}, "mark": {"type": "rule", "color": "#8c8c8c", "strokeDash": [4, 3], "strokeWidth": 1}, "encoding": {"y": {"field": "v", "type": "quantitative", "axis": {"values": [0, 0.2, 0.4, 0.6, 0.8, 1], "format": "~g", "labelOverlap": false, "title": null}}}},
        {"mark": {"type": "line", "strokeWidth": 1.6},
         "encoding": {
           "x": {"field": "x", "type": "quantitative"},
           "y": {"field": "y", "type": "quantitative", "axis": {"values": [0, 0.2, 0.4, 0.6, 0.8, 1], "format": "~g", "labelOverlap": false, "title": null}},
           "color": {"field": "m", "type": "nominal", "legend": null, "scale": {"domain": ["gp-imiqr", "vbmc-npro", "vbmc-eig", "vbmc-imiqr", "vbmc-viqr"], "range": ["#33a02c", "#b2df8a", "#a6cee3", "#1f78b4", "#000000"]}},
           "strokeDash": {"field": "m", "type": "nominal", "legend": null, "scale": {"domain": ["gp-imiqr", "vbmc-npro", "vbmc-eig", "vbmc-imiqr", "vbmc-viqr"], "range": [[1, 0], [1, 0], [5, 3], [1.5, 2], [1, 0]]}}}},
        {"data": {"name": "labels"}, "transform": [{"filter": "datum.p == 'N2'"}],
         "mark": {"type": "text", "align": "right", "baseline": "middle", "fontSize": 12, "font": "Liberation Sans"},
         "encoding": {"x": {"field": "x", "type": "quantitative"}, "y": {"field": "y", "type": "quantitative", "axis": {"values": [0, 0.2, 0.4, 0.6, 0.8, 1], "format": "~g", "labelOverlap": false, "title": null}}, "text": {"field": "t"}}}
      ]
    },
    {
      "width": 116, "height": 157, "title": "Rodent",
      "transform": [{"filter": "datum.p == 'Ro'"}],
      "layer": [
        {"mark": {"type": "area", "fillOpacity": 0.5},
         "encoding": {
           "x": {"field": "x", "type": "quantitative", "scale": {"domain": [0, 550], "nice": false}, "axis": {"values": [200, 400], "format": "d", "title": "Function evaluations"}},
           "y": {"field": "lo", "type": "quantitative", "scale": {"domain": [0, 1], "nice": false}, "axis": {"values": [0, 0.2, 0.4, 0.6, 0.8, 1], "format": "~g", "labelOverlap": false, "title": null}},
           "y2": {"field": "hi"},
           "fill": {"field": "m", "type": "nominal", "legend": null, "scale": {"domain": ["gp-imiqr", "vbmc-npro", "vbmc-eig", "vbmc-imiqr", "vbmc-viqr"], "range": ["#33a02c", "#b2df8a", "#a6cee3", "#1f78b4", "#000000"]}}}},
        {"data": {"values": [{"v": 0.2}]}, "mark": {"type": "rule", "color": "#8c8c8c", "strokeDash": [4, 3], "strokeWidth": 1}, "encoding": {"y": {"field": "v", "type": "quantitative", "axis": {"values": [0, 0.2, 0.4, 0.6, 0.8, 1], "format": "~g", "labelOverlap": false, "title": null}}}},
        {"mark": {"type": "line", "strokeWidth": 1.6},
         "encoding": {
           "x": {"field": "x", "type": "quantitative"},
           "y": {"field": "y", "type": "quantitative", "axis": {"values": [0, 0.2, 0.4, 0.6, 0.8, 1], "format": "~g", "labelOverlap": false, "title": null}},
           "color": {"field": "m", "type": "nominal", "legend": null, "scale": {"domain": ["gp-imiqr", "vbmc-npro", "vbmc-eig", "vbmc-imiqr", "vbmc-viqr"], "range": ["#33a02c", "#b2df8a", "#a6cee3", "#1f78b4", "#000000"]}},
           "strokeDash": {"field": "m", "type": "nominal", "legend": null, "scale": {"domain": ["gp-imiqr", "vbmc-npro", "vbmc-eig", "vbmc-imiqr", "vbmc-viqr"], "range": [[1, 0], [1, 0], [5, 3], [1.5, 2], [1, 0]]}}}},
        {"data": {"name": "labels"}, "transform": [{"filter": "datum.p == 'Ro'"}],
         "mark": {"type": "text", "align": "right", "baseline": "middle", "fontSize": 12, "font": "Liberation Sans"},
         "encoding": {"x": {"field": "x", "type": "quantitative"}, "y": {"field": "y", "type": "quantitative", "axis": {"values": [0, 0.2, 0.4, 0.6, 0.8, 1], "format": "~g", "labelOverlap": false, "title": null}}, "text": {"field": "t"}}}
      ]
    }
  ],
  "config": {
    "background": "#ffffff",
    "view": {"stroke": null},
    "font": "Liberation Sans",
    "title": {"font": "Liberation Sans", "fontSize": 13, "fontWeight": "bold", "color": "#000000", "offset": -4, "frame": "group"},
    "axis": {
      "grid": false, "ticks": false, "tickSize": 0,
      "labelOverlap": false, "labelFlush": false,
      "domainColor": "#8c8c8c", "domainWidth": 1,
      "labelFont": "Liberation Sans", "labelFontSize": 12, "labelColor": "#262626", "labelPadding": 8,
      "titleFont": "Liberation Sans", "titleFontSize": 13, "titleFontWeight": "normal", "titleColor": "#000000", "titlePadding": 2
    }
  }
}
